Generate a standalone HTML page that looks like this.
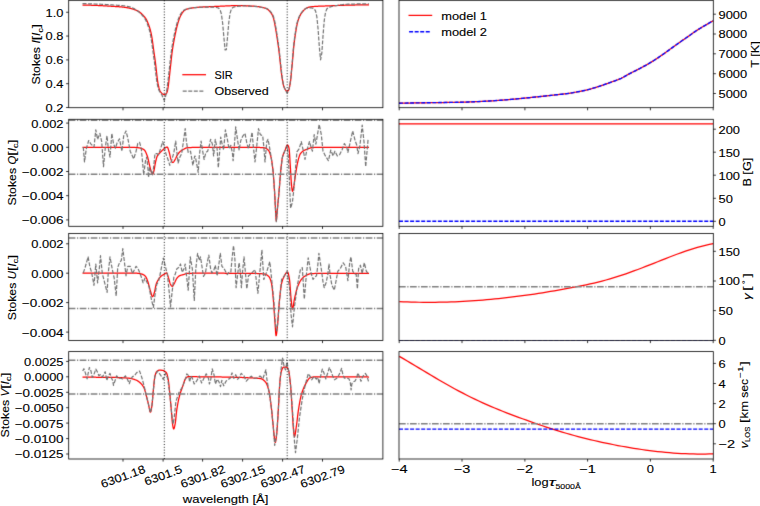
<!DOCTYPE html>
<html><head><meta charset="utf-8"><title>SIR inversion</title>
<style>
html,body{margin:0;padding:0;background:#fff;width:760px;height:506px;overflow:hidden;}
svg{display:block;}
text{font-family:"Liberation Sans", sans-serif;stroke:#000;stroke-width:0.12px;}
</style></head><body>
<svg width="760" height="506" viewBox="0 0 760 506" font-family='"Liberation Sans", sans-serif' fill="#000">
<defs><filter id="soft" x="0" y="0" width="760" height="506" filterUnits="userSpaceOnUse" color-interpolation-filters="sRGB"><feConvolveMatrix order="3" kernelMatrix="0.0100 0.0800 0.0100 0.0800 0.6400 0.0800 0.0100 0.0800 0.0100" divisor="1" edgeMode="duplicate" preserveAlpha="true"/></filter></defs>
<g filter="url(#soft)">
<rect x="0" y="0" width="760" height="506" fill="#fff"/>
<defs>
<clipPath id="cl0"><rect x="68.7" y="0.3" width="314.2" height="107.4"/></clipPath>
<clipPath id="cr0"><rect x="399" y="0.3" width="314.3" height="107.4"/></clipPath>
<clipPath id="cl1"><rect x="68.7" y="119.3" width="314.2" height="107"/></clipPath>
<clipPath id="cr1"><rect x="399" y="119.3" width="314.3" height="107"/></clipPath>
<clipPath id="cl2"><rect x="68.7" y="233.5" width="314.2" height="107"/></clipPath>
<clipPath id="cr2"><rect x="399" y="233.5" width="314.3" height="107"/></clipPath>
<clipPath id="cl3"><rect x="68.7" y="351.6" width="314.2" height="107.4"/></clipPath>
<clipPath id="cr3"><rect x="399" y="351.6" width="314.3" height="107.4"/></clipPath>
</defs>
<g clip-path="url(#cl0)">
<path d="M82.5,5 L82.8,5.01 L83.1,5.02 L83.4,5.02 L83.7,5.03 L84,5.04 L84.3,5.05 L84.6,5.06 L84.9,5.06 L85.2,5.07 L85.5,5.08 L85.8,5.09 L86.1,5.1 L86.4,5.11 L86.7,5.11 L87,5.12 L87.3,5.13 L87.6,5.14 L87.9,5.15 L88.2,5.16 L88.5,5.16 L88.8,5.17 L89.1,5.18 L89.4,5.19 L89.7,5.2 L90,5.21 L90.3,5.22 L90.6,5.23 L90.9,5.24 L91.2,5.25 L91.5,5.26 L91.8,5.27 L92.1,5.28 L92.4,5.29 L92.7,5.3 L93,5.31 L93.3,5.32 L93.6,5.33 L93.9,5.34 L94.2,5.35 L94.5,5.36 L94.8,5.37 L95.1,5.39 L95.4,5.4 L95.7,5.41 L96,5.42 L96.3,5.43 L96.6,5.45 L96.9,5.46 L97.2,5.47 L97.5,5.48 L97.8,5.5 L98.1,5.51 L98.4,5.52 L98.7,5.54 L99,5.55 L99.3,5.57 L99.6,5.58 L99.9,5.6 L100.2,5.61 L100.5,5.63 L100.8,5.64 L101.1,5.66 L101.4,5.67 L101.7,5.69 L102,5.7 L102.3,5.72 L102.6,5.74 L102.9,5.75 L103.2,5.77 L103.5,5.79 L103.8,5.81 L104.1,5.82 L104.4,5.84 L104.7,5.86 L105,5.88 L105.3,5.89 L105.6,5.91 L105.9,5.93 L106.2,5.95 L106.5,5.97 L106.8,5.99 L107.1,6 L107.4,6.02 L107.7,6.04 L108,6.06 L108.3,6.08 L108.6,6.1 L108.9,6.12 L109.2,6.14 L109.5,6.16 L109.8,6.17 L110.1,6.19 L110.4,6.21 L110.7,6.23 L111,6.25 L111.3,6.27 L111.6,6.29 L111.9,6.31 L112.2,6.33 L112.5,6.35 L112.8,6.36 L113.1,6.38 L113.4,6.4 L113.7,6.42 L114,6.44 L114.3,6.46 L114.6,6.48 L114.9,6.49 L115.2,6.51 L115.5,6.53 L115.8,6.55 L116.1,6.57 L116.4,6.58 L116.7,6.6 L117,6.62 L117.3,6.64 L117.6,6.66 L117.9,6.68 L118.2,6.7 L118.5,6.72 L118.8,6.74 L119.1,6.76 L119.4,6.78 L119.7,6.81 L120,6.83 L120.3,6.85 L120.6,6.88 L120.9,6.9 L121.2,6.93 L121.5,6.96 L121.8,6.99 L122.1,7.02 L122.4,7.05 L122.7,7.08 L123,7.11 L123.3,7.15 L123.6,7.18 L123.9,7.22 L124.2,7.26 L124.5,7.3 L124.8,7.34 L125.1,7.38 L125.4,7.42 L125.7,7.47 L126,7.52 L126.3,7.57 L126.6,7.62 L126.9,7.67 L127.2,7.72 L127.5,7.78 L127.8,7.83 L128.1,7.89 L128.4,7.95 L128.7,8.01 L129,8.08 L129.3,8.14 L129.6,8.21 L129.9,8.28 L130.2,8.35 L130.5,8.42 L130.8,8.5 L131.1,8.58 L131.4,8.66 L131.7,8.74 L132,8.82 L132.3,8.91 L132.6,9 L132.9,9.09 L133.2,9.18 L133.5,9.27 L133.8,9.37 L134.1,9.47 L134.4,9.58 L134.7,9.68 L135,9.79 L135.3,9.9 L135.6,10.02 L135.9,10.14 L136.2,10.26 L136.5,10.38 L136.8,10.51 L137.1,10.64 L137.4,10.78 L137.7,10.93 L138,11.08 L138.3,11.24 L138.6,11.41 L138.9,11.59 L139.2,11.79 L139.5,11.99 L139.8,12.21 L140.1,12.44 L140.4,12.68 L140.7,12.94 L141,13.22 L141.3,13.5 L141.6,13.8 L141.9,14.1 L142.2,14.41 L142.5,14.73 L142.8,15.05 L143.1,15.37 L143.4,15.69 L143.7,16.01 L144,16.34 L144.3,16.67 L144.6,17.01 L144.9,17.37 L145.2,17.75 L145.5,18.16 L145.8,18.61 L146.1,19.09 L146.4,19.62 L146.7,20.2 L147,20.83 L147.3,21.5 L147.6,22.22 L147.9,22.96 L148.2,23.74 L148.5,24.53 L148.8,25.34 L149.1,26.17 L149.4,27.04 L149.7,27.96 L150,28.93 L150.3,29.98 L150.6,31.12 L150.9,32.36 L151.2,33.72 L151.5,35.21 L151.8,36.84 L152.1,38.64 L152.4,40.6 L152.7,42.75 L153,45.03 L153.3,47.34 L153.6,49.6 L153.9,51.74 L154.2,53.79 L154.5,55.82 L154.8,57.9 L155.1,60.08 L155.4,62.38 L155.7,64.82 L156,67.4 L156.3,70.13 L156.6,72.89 L156.9,75.59 L157.2,78.1 L157.5,80.33 L157.8,82.28 L158.1,83.98 L158.4,85.48 L158.7,86.78 L159,87.92 L159.3,88.9 L159.6,89.75 L159.9,90.47 L160.2,91.08 L160.5,91.61 L160.8,92.06 L161.1,92.45 L161.4,92.8 L161.7,93.12 L162,93.41 L162.3,93.67 L162.6,93.9 L162.9,94.09 L163.2,94.25 L163.5,94.37 L163.8,94.46 L164.1,94.51 L164.4,94.53 L164.7,94.52 L165,94.48 L165.3,94.41 L165.6,94.29 L165.9,94.09 L166.2,93.8 L166.5,93.4 L166.8,92.83 L167.1,92.06 L167.4,91.02 L167.7,89.69 L168,88.03 L168.3,86 L168.6,83.61 L168.9,81 L169.2,78.3 L169.5,75.63 L169.8,72.96 L170.1,70.26 L170.4,67.5 L170.7,64.68 L171,61.84 L171.3,59.03 L171.6,56.34 L171.9,53.8 L172.2,51.47 L172.5,49.34 L172.8,47.38 L173.1,45.55 L173.4,43.82 L173.7,42.17 L174,40.57 L174.3,38.99 L174.6,37.44 L174.9,35.93 L175.2,34.44 L175.5,33 L175.8,31.6 L176.1,30.24 L176.4,28.93 L176.7,27.67 L177,26.45 L177.3,25.29 L177.6,24.17 L177.9,23.11 L178.2,22.1 L178.5,21.15 L178.8,20.25 L179.1,19.39 L179.4,18.59 L179.7,17.83 L180,17.12 L180.3,16.44 L180.6,15.8 L180.9,15.2 L181.2,14.63 L181.5,14.09 L181.8,13.58 L182.1,13.11 L182.4,12.67 L182.7,12.26 L183,11.88 L183.3,11.53 L183.6,11.2 L183.9,10.91 L184.2,10.64 L184.5,10.39 L184.8,10.17 L185.1,9.97 L185.4,9.79 L185.7,9.63 L186,9.48 L186.3,9.35 L186.6,9.23 L186.9,9.13 L187.2,9.03 L187.5,8.95 L187.8,8.87 L188.1,8.79 L188.4,8.72 L188.7,8.65 L189,8.59 L189.3,8.52 L189.6,8.46 L189.9,8.4 L190.2,8.34 L190.5,8.28 L190.8,8.22 L191.1,8.17 L191.4,8.11 L191.7,8.06 L192,8.01 L192.3,7.96 L192.6,7.91 L192.9,7.86 L193.2,7.82 L193.5,7.77 L193.8,7.73 L194.1,7.69 L194.4,7.65 L194.7,7.61 L195,7.58 L195.3,7.54 L195.6,7.51 L195.9,7.47 L196.2,7.44 L196.5,7.41 L196.8,7.38 L197.1,7.36 L197.4,7.33 L197.7,7.31 L198,7.28 L198.3,7.26 L198.6,7.24 L198.9,7.21 L199.2,7.19 L199.5,7.17 L199.8,7.15 L200.1,7.14 L200.4,7.12 L200.7,7.1 L201,7.08 L201.3,7.07 L201.6,7.05 L201.9,7.04 L202.2,7.02 L202.5,7.01 L202.8,7 L203.1,6.98 L203.4,6.97 L203.7,6.96 L204,6.94 L204.3,6.93 L204.6,6.92 L204.9,6.9 L205.2,6.89 L205.5,6.88 L205.8,6.87 L206.1,6.85 L206.4,6.84 L206.7,6.83 L207,6.81 L207.3,6.8 L207.6,6.79 L207.9,6.78 L208.2,6.76 L208.5,6.75 L208.8,6.74 L209.1,6.72 L209.4,6.71 L209.7,6.7 L210,6.68 L210.3,6.67 L210.6,6.66 L210.9,6.64 L211.2,6.63 L211.5,6.62 L211.8,6.6 L212.1,6.59 L212.4,6.58 L212.7,6.56 L213,6.55 L213.3,6.54 L213.6,6.52 L213.9,6.51 L214.2,6.5 L214.5,6.48 L214.8,6.47 L215.1,6.46 L215.4,6.44 L215.7,6.43 L216,6.41 L216.3,6.4 L216.6,6.39 L216.9,6.37 L217.2,6.36 L217.5,6.35 L217.8,6.33 L218.1,6.32 L218.4,6.31 L218.7,6.29 L219,6.28 L219.3,6.26 L219.6,6.25 L219.9,6.24 L220.2,6.22 L220.5,6.21 L220.8,6.19 L221.1,6.18 L221.4,6.17 L221.7,6.15 L222,6.14 L222.3,6.13 L222.6,6.11 L222.9,6.1 L223.2,6.08 L223.5,6.07 L223.8,6.06 L224.1,6.04 L224.4,6.03 L224.7,6.01 L225,6 L225.3,5.99 L225.6,5.97 L225.9,5.96 L226.2,5.94 L226.5,5.93 L226.8,5.92 L227.1,5.9 L227.4,5.89 L227.7,5.88 L228,5.86 L228.3,5.85 L228.6,5.84 L228.9,5.82 L229.2,5.81 L229.5,5.8 L229.8,5.78 L230.1,5.77 L230.4,5.76 L230.7,5.75 L231,5.74 L231.3,5.73 L231.6,5.71 L231.9,5.7 L232.2,5.69 L232.5,5.68 L232.8,5.67 L233.1,5.66 L233.4,5.65 L233.7,5.65 L234,5.64 L234.3,5.63 L234.6,5.62 L234.9,5.61 L235.2,5.61 L235.5,5.6 L235.8,5.6 L236.1,5.59 L236.4,5.58 L236.7,5.58 L237,5.58 L237.3,5.57 L237.6,5.57 L237.9,5.57 L238.2,5.57 L238.5,5.56 L238.8,5.56 L239.1,5.56 L239.4,5.56 L239.7,5.56 L240,5.57 L240.3,5.57 L240.6,5.57 L240.9,5.58 L241.2,5.58 L241.5,5.59 L241.8,5.59 L242.1,5.6 L242.4,5.6 L242.7,5.61 L243,5.62 L243.3,5.63 L243.6,5.64 L243.9,5.65 L244.2,5.66 L244.5,5.68 L244.8,5.69 L245.1,5.7 L245.4,5.72 L245.7,5.74 L246,5.75 L246.3,5.77 L246.6,5.79 L246.9,5.81 L247.2,5.82 L247.5,5.84 L247.8,5.86 L248.1,5.88 L248.4,5.9 L248.7,5.92 L249,5.94 L249.3,5.96 L249.6,5.98 L249.9,5.99 L250.2,6.01 L250.5,6.03 L250.8,6.05 L251.1,6.06 L251.4,6.08 L251.7,6.1 L252,6.11 L252.3,6.13 L252.6,6.15 L252.9,6.16 L253.2,6.18 L253.5,6.2 L253.8,6.22 L254.1,6.24 L254.4,6.26 L254.7,6.28 L255,6.3 L255.3,6.33 L255.6,6.35 L255.9,6.38 L256.2,6.41 L256.5,6.44 L256.8,6.47 L257.1,6.5 L257.4,6.54 L257.7,6.57 L258,6.61 L258.3,6.65 L258.6,6.7 L258.9,6.74 L259.2,6.79 L259.5,6.84 L259.8,6.89 L260.1,6.95 L260.4,7 L260.7,7.06 L261,7.12 L261.3,7.19 L261.6,7.25 L261.9,7.32 L262.2,7.39 L262.5,7.46 L262.8,7.53 L263.1,7.61 L263.4,7.68 L263.7,7.76 L264,7.84 L264.3,7.93 L264.6,8.01 L264.9,8.1 L265.2,8.2 L265.5,8.3 L265.8,8.42 L266.1,8.54 L266.4,8.67 L266.7,8.82 L267,8.98 L267.3,9.16 L267.6,9.35 L267.9,9.57 L268.2,9.8 L268.5,10.06 L268.8,10.33 L269.1,10.63 L269.4,10.95 L269.7,11.29 L270,11.65 L270.3,12.02 L270.6,12.42 L270.9,12.83 L271.2,13.25 L271.5,13.7 L271.8,14.17 L272.1,14.68 L272.4,15.27 L272.7,15.93 L273,16.7 L273.3,17.59 L273.6,18.62 L273.9,19.81 L274.2,21.14 L274.5,22.6 L274.8,24.16 L275.1,25.79 L275.4,27.46 L275.7,29.17 L276,30.92 L276.3,32.7 L276.6,34.53 L276.9,36.4 L277.2,38.32 L277.5,40.3 L277.8,42.34 L278.1,44.45 L278.4,46.65 L278.7,48.93 L279,51.32 L279.3,53.81 L279.6,56.42 L279.9,59.16 L280.2,62.03 L280.5,64.97 L280.8,67.86 L281.1,70.61 L281.4,73.09 L281.7,75.29 L282,77.26 L282.3,79.1 L282.6,80.88 L282.9,82.57 L283.2,84.1 L283.5,85.4 L283.8,86.45 L284.1,87.29 L284.4,87.96 L284.7,88.53 L285,89.03 L285.3,89.53 L285.6,90.02 L285.9,90.46 L286.2,90.85 L286.5,91.13 L286.8,91.3 L287.1,91.33 L287.4,91.23 L287.7,91.05 L288,90.82 L288.3,90.52 L288.6,90.08 L288.9,89.43 L289.2,88.5 L289.5,87.23 L289.8,85.71 L290.1,84.03 L290.4,82.17 L290.7,79.89 L291,77 L291.3,73.69 L291.6,70.46 L291.9,67.49 L292.2,64.52 L292.5,61.26 L292.8,57.76 L293.1,54.18 L293.4,50.67 L293.7,47.4 L294,44.49 L294.3,41.91 L294.6,39.6 L294.9,37.47 L295.2,35.46 L295.5,33.5 L295.8,31.58 L296.1,29.73 L296.4,27.97 L296.7,26.32 L297,24.81 L297.3,23.45 L297.6,22.22 L297.9,21.12 L298.2,20.12 L298.5,19.22 L298.8,18.4 L299.1,17.64 L299.4,16.94 L299.7,16.28 L300,15.66 L300.3,15.09 L300.6,14.55 L300.9,14.05 L301.2,13.57 L301.5,13.12 L301.8,12.69 L302.1,12.29 L302.4,11.9 L302.7,11.53 L303,11.17 L303.3,10.82 L303.6,10.49 L303.9,10.17 L304.2,9.87 L304.5,9.58 L304.8,9.31 L305.1,9.06 L305.4,8.82 L305.7,8.6 L306,8.39 L306.3,8.2 L306.6,8.03 L306.9,7.87 L307.2,7.73 L307.5,7.6 L307.8,7.49 L308.1,7.38 L308.4,7.29 L308.7,7.21 L309,7.14 L309.3,7.07 L309.6,7.01 L309.9,6.96 L310.2,6.92 L310.5,6.87 L310.8,6.84 L311.1,6.8 L311.4,6.77 L311.7,6.73 L312,6.7 L312.3,6.67 L312.6,6.64 L312.9,6.61 L313.2,6.58 L313.5,6.55 L313.8,6.53 L314.1,6.5 L314.4,6.48 L314.7,6.46 L315,6.43 L315.3,6.41 L315.6,6.39 L315.9,6.37 L316.2,6.35 L316.5,6.34 L316.8,6.32 L317.1,6.3 L317.4,6.29 L317.7,6.27 L318,6.26 L318.3,6.24 L318.6,6.23 L318.9,6.21 L319.2,6.2 L319.5,6.19 L319.8,6.18 L320.1,6.17 L320.4,6.15 L320.7,6.14 L321,6.13 L321.3,6.12 L321.6,6.11 L321.9,6.1 L322.2,6.09 L322.5,6.08 L322.8,6.07 L323.1,6.06 L323.4,6.05 L323.7,6.04 L324,6.03 L324.3,6.02 L324.6,6.01 L324.9,6 L325.2,5.99 L325.5,5.98 L325.8,5.97 L326.1,5.96 L326.4,5.95 L326.7,5.94 L327,5.93 L327.3,5.92 L327.6,5.91 L327.9,5.89 L328.2,5.88 L328.5,5.87 L328.8,5.86 L329.1,5.85 L329.4,5.83 L329.7,5.82 L330,5.81 L330.3,5.8 L330.6,5.78 L330.9,5.77 L331.2,5.76 L331.5,5.75 L331.8,5.73 L332.1,5.72 L332.4,5.71 L332.7,5.7 L333,5.68 L333.3,5.67 L333.6,5.66 L333.9,5.65 L334.2,5.63 L334.5,5.62 L334.8,5.61 L335.1,5.6 L335.4,5.58 L335.7,5.57 L336,5.56 L336.3,5.55 L336.6,5.53 L336.9,5.52 L337.2,5.51 L337.5,5.5 L337.8,5.48 L338.1,5.47 L338.4,5.46 L338.7,5.45 L339,5.44 L339.3,5.43 L339.6,5.41 L339.9,5.4 L340.2,5.39 L340.5,5.38 L340.8,5.37 L341.1,5.36 L341.4,5.35 L341.7,5.34 L342,5.33 L342.3,5.32 L342.6,5.31 L342.9,5.3 L343.2,5.29 L343.5,5.28 L343.8,5.27 L344.1,5.26 L344.4,5.25 L344.7,5.24 L345,5.24 L345.3,5.23 L345.6,5.22 L345.9,5.21 L346.2,5.2 L346.5,5.19 L346.8,5.19 L347.1,5.18 L347.4,5.17 L347.7,5.16 L348,5.15 L348.3,5.15 L348.6,5.14 L348.9,5.13 L349.2,5.12 L349.5,5.12 L349.8,5.11 L350.1,5.1 L350.4,5.1 L350.7,5.09 L351,5.08 L351.3,5.08 L351.6,5.07 L351.9,5.06 L352.2,5.06 L352.5,5.05 L352.8,5.05 L353.1,5.04 L353.4,5.03 L353.7,5.03 L354,5.02 L354.3,5.02 L354.6,5.01 L354.9,5.01 L355.2,5 L355.5,4.99 L355.8,4.99 L356.1,4.98 L356.4,4.98 L356.7,4.97 L357,4.97 L357.3,4.96 L357.6,4.96 L357.9,4.95 L358.2,4.95 L358.5,4.94 L358.8,4.94 L359.1,4.93 L359.4,4.93 L359.7,4.93 L360,4.92 L360.3,4.92 L360.6,4.91 L360.9,4.91 L361.2,4.9 L361.5,4.9 L361.8,4.89 L362.1,4.89 L362.4,4.89 L362.7,4.88 L363,4.88 L363.3,4.87 L363.6,4.87 L363.9,4.87 L364.2,4.86 L364.5,4.86 L364.8,4.85 L365.1,4.85 L365.4,4.85 L365.7,4.84 L366,4.84 L366.3,4.83 L366.6,4.83 L366.9,4.83 L367.2,4.82 L367.5,4.82 L367.8,4.82 L368.1,4.81 L368.4,4.81 L368.7,4.8 L369,4.8" fill="none" stroke="#ff0000" stroke-width="1.25" stroke-linejoin="round"/>
<path d="M82.5,3.61 L83.74,3.64 L84.98,3.67 L86.22,3.71 L87.46,3.74 L88.7,3.78 L89.94,3.82 L91.18,3.85 L92.42,3.9 L93.66,3.94 L94.9,3.99 L96.14,4.03 L97.38,4.09 L98.62,4.14 L99.86,4.2 L101.1,4.26 L102.34,4.33 L103.58,4.4 L104.82,4.47 L106.06,4.55 L107.3,4.63 L108.54,4.7 L109.78,4.78 L111.02,4.86 L112.26,4.94 L113.5,5.02 L114.74,5.09 L115.98,5.17 L117.22,5.25 L118.46,5.33 L119.7,5.42 L120.94,5.52 L122.18,5.64 L123.42,5.77 L124.66,5.93 L125.9,6.11 L127.14,6.32 L128.38,6.56 L129.62,6.83 L130.86,7.25 L132.1,7.76 L133.34,8.31 L134.58,8.9 L135.82,9.91 L137.06,10.67 L138.3,11.56 L139.54,12.67 L140.78,13.9 L142.02,15.2 L143.26,16.53 L144.5,18.04 L145.74,20.1 L146.98,22.93 L148.22,26.25 L149.46,30.22 L150.7,35.76 L151.94,43.83 L153.18,53 L154.42,61.78 L155.66,72.55 L156.9,82.3 L158.14,88.09 L159.38,91.26 L160.62,93 L161.86,94.74 L163.1,98.27 L164.34,100.42 L165.58,96.31 L166.82,90.04 L168.06,80.51 L169.3,69.38 L170.54,57.8 L171.78,48.19 L173.02,41.03 L174.26,34.68 L175.5,28.98 L176.74,24.07 L177.98,20.06 L179.22,16.89 L180.46,14.39 L181.7,12.45 L182.94,11.02 L184.18,10.05 L185.42,9.41 L186.66,9 L187.9,8.71 L189.14,8.45 L190.38,8.22 L191.62,8.01 L192.86,7.84 L194.1,7.68 L195.34,7.65 L196.58,7.53 L197.82,7.43 L199.06,7.35 L200.3,7.29 L201.54,7.23 L202.78,7.19 L204.02,7.16 L205.26,7.13 L206.5,7.11 L207.74,7.1 L208.98,7.09 L210.22,7.09 L211.46,7.11 L212.7,7.15 L213.94,7.21 L215.18,7.32 L216.42,7.5 L217.66,7.79 L218.9,8.39 L220.14,9.91 L221.38,13.99 L222.62,22.96 L223.86,37.05 L225.1,49.96 L226.34,49.63 L227.58,36.38 L228.82,22.29 L230.06,13.4 L231.3,9.34 L232.54,7.76 L233.78,7.09 L235.02,6.71 L236.26,6.46 L237.5,6.28 L238.74,6.15 L239.98,6.06 L241.22,6 L242.46,5.97 L243.7,5.97 L244.94,5.98 L246.18,6.02 L247.42,6.07 L248.66,6.13 L249.9,6.19 L251.14,6.24 L252.38,6.3 L253.62,6.36 L254.86,6.44 L256.1,6.53 L257.34,6.66 L258.58,6.82 L259.82,7.01 L261.06,7.25 L262.3,7.52 L263.54,7.82 L264.78,8.17 L266.02,8.28 L267.26,8.78 L268.5,9.53 L269.74,10.63 L270.98,12.12 L272.22,13.93 L273.46,16.48 L274.7,21.12 L275.94,27.93 L277.18,35.61 L278.42,44.19 L279.66,54.26 L280.9,66.37 L282.14,76.88 L283.38,84.29 L284.62,88.33 L285.86,90.99 L287.1,93.02 L288.34,91.46 L289.58,86.62 L290.82,77.49 L292.06,64.07 L293.3,49.16 L294.54,38.05 L295.78,29.72 L297.02,23.13 L298.26,18.85 L299.5,15.9 L300.74,13.7 L301.98,11.98 L303.22,10.55 L304.46,9.41 L305.7,8.58 L306.94,8.07 L308.18,7.8 L309.42,7.72 L310.66,7.87 L311.9,8.01 L313.14,8.32 L314.38,9.06 L315.62,11.13 L316.86,16.86 L318.1,29.2 L319.34,47.16 L320.58,59.8 L321.82,53.09 L323.06,35.08 L324.3,20.12 L325.54,12.2 L326.78,9.04 L328.02,7.85 L329.26,7.26 L330.5,6.85 L331.74,6.49 L332.98,6.18 L334.22,5.92 L335.46,5.68 L336.7,5.47 L337.94,5.27 L339.18,5.08 L340.42,4.91 L341.66,4.74 L342.9,4.58 L344.14,4.43 L345.38,4.31 L346.62,4.26 L347.86,4.21 L349.1,4.17 L350.34,4.13 L351.58,4.09 L352.82,4.06 L354.06,4.03 L355.3,4 L356.54,3.97 L357.78,3.94 L359.02,3.92 L360.26,3.89 L361.5,3.87 L362.74,3.85 L363.98,3.83 L365.22,3.81 L366.46,3.79 L367.7,3.77 L368.94,3.75" fill="none" stroke="#727272" stroke-width="1.2" stroke-dasharray="4,1.55" stroke-linejoin="round"/>
</g>
<g clip-path="url(#cl1)">
<path d="M82.5,147.3 L82.8,147.3 L83.1,147.3 L83.4,147.3 L83.7,147.3 L84,147.3 L84.3,147.3 L84.6,147.3 L84.9,147.3 L85.2,147.3 L85.5,147.3 L85.8,147.3 L86.1,147.3 L86.4,147.3 L86.7,147.3 L87,147.3 L87.3,147.3 L87.6,147.3 L87.9,147.3 L88.2,147.3 L88.5,147.3 L88.8,147.3 L89.1,147.3 L89.4,147.3 L89.7,147.3 L90,147.3 L90.3,147.3 L90.6,147.3 L90.9,147.3 L91.2,147.3 L91.5,147.3 L91.8,147.3 L92.1,147.3 L92.4,147.3 L92.7,147.3 L93,147.3 L93.3,147.3 L93.6,147.3 L93.9,147.3 L94.2,147.3 L94.5,147.3 L94.8,147.31 L95.1,147.31 L95.4,147.31 L95.7,147.31 L96,147.31 L96.3,147.31 L96.6,147.31 L96.9,147.31 L97.2,147.31 L97.5,147.31 L97.8,147.31 L98.1,147.31 L98.4,147.31 L98.7,147.31 L99,147.31 L99.3,147.31 L99.6,147.31 L99.9,147.31 L100.2,147.31 L100.5,147.31 L100.8,147.31 L101.1,147.31 L101.4,147.31 L101.7,147.31 L102,147.32 L102.3,147.32 L102.6,147.32 L102.9,147.32 L103.2,147.32 L103.5,147.32 L103.8,147.32 L104.1,147.32 L104.4,147.32 L104.7,147.32 L105,147.32 L105.3,147.32 L105.6,147.32 L105.9,147.32 L106.2,147.32 L106.5,147.33 L106.8,147.33 L107.1,147.33 L107.4,147.33 L107.7,147.33 L108,147.33 L108.3,147.33 L108.6,147.33 L108.9,147.33 L109.2,147.33 L109.5,147.33 L109.8,147.34 L110.1,147.34 L110.4,147.34 L110.7,147.34 L111,147.34 L111.3,147.34 L111.6,147.34 L111.9,147.34 L112.2,147.34 L112.5,147.34 L112.8,147.35 L113.1,147.35 L113.4,147.35 L113.7,147.35 L114,147.35 L114.3,147.35 L114.6,147.35 L114.9,147.35 L115.2,147.36 L115.5,147.36 L115.8,147.36 L116.1,147.36 L116.4,147.36 L116.7,147.36 L117,147.36 L117.3,147.37 L117.6,147.37 L117.9,147.37 L118.2,147.37 L118.5,147.37 L118.8,147.37 L119.1,147.37 L119.4,147.38 L119.7,147.38 L120,147.38 L120.3,147.38 L120.6,147.38 L120.9,147.38 L121.2,147.39 L121.5,147.39 L121.8,147.39 L122.1,147.39 L122.4,147.39 L122.7,147.39 L123,147.4 L123.3,147.4 L123.6,147.4 L123.9,147.4 L124.2,147.4 L124.5,147.41 L124.8,147.41 L125.1,147.41 L125.4,147.41 L125.7,147.41 L126,147.42 L126.3,147.42 L126.6,147.42 L126.9,147.42 L127.2,147.42 L127.5,147.43 L127.8,147.43 L128.1,147.43 L128.4,147.43 L128.7,147.44 L129,147.44 L129.3,147.44 L129.6,147.44 L129.9,147.45 L130.2,147.45 L130.5,147.45 L130.8,147.45 L131.1,147.46 L131.4,147.46 L131.7,147.46 L132,147.46 L132.3,147.47 L132.6,147.47 L132.9,147.47 L133.2,147.47 L133.5,147.48 L133.8,147.48 L134.1,147.48 L134.4,147.48 L134.7,147.49 L135,147.49 L135.3,147.49 L135.6,147.5 L135.9,147.5 L136.2,147.5 L136.5,147.51 L136.8,147.53 L137.1,147.56 L137.4,147.59 L137.7,147.62 L138,147.66 L138.3,147.71 L138.6,147.76 L138.9,147.81 L139.2,147.87 L139.5,147.93 L139.8,148 L140.1,148.06 L140.4,148.13 L140.7,148.2 L141,148.28 L141.3,148.36 L141.6,148.46 L141.9,148.57 L142.2,148.7 L142.5,148.84 L142.8,148.99 L143.1,149.16 L143.4,149.35 L143.7,149.55 L144,149.76 L144.3,150 L144.6,150.29 L144.9,150.68 L145.2,151.14 L145.5,151.68 L145.8,152.28 L146.1,152.94 L146.4,153.66 L146.7,154.41 L147,155.19 L147.3,156 L147.6,156.92 L147.9,158.03 L148.2,159.26 L148.5,160.58 L148.8,161.94 L149.1,163.29 L149.4,164.59 L149.7,165.8 L150,167.05 L150.3,168.32 L150.6,169.56 L150.9,170.7 L151.2,171.68 L151.5,172.44 L151.8,173.16 L152.1,173.79 L152.4,174.21 L152.7,174.27 L153,173.84 L153.3,173.04 L153.6,172.06 L153.9,171.05 L154.2,169.71 L154.5,168.06 L154.8,166.25 L155.1,164.46 L155.4,162.82 L155.7,161.48 L156,160.23 L156.3,159.03 L156.6,157.93 L156.9,156.97 L157.2,156.2 L157.5,155.64 L157.8,155.16 L158.1,154.75 L158.4,154.38 L158.7,154.05 L159,153.74 L159.3,153.43 L159.6,153.11 L159.9,152.78 L160.2,152.45 L160.5,152.14 L160.8,151.83 L161.1,151.53 L161.4,151.23 L161.7,150.94 L162,150.65 L162.3,150.37 L162.6,150.09 L162.9,149.81 L163.2,149.52 L163.5,149.22 L163.8,148.92 L164.1,148.62 L164.4,148.35 L164.7,148.1 L165,147.88 L165.3,147.7 L165.6,147.56 L165.9,147.43 L166.2,147.31 L166.5,147.21 L166.8,147.14 L167.1,147.1 L167.4,147.19 L167.7,147.6 L168,148.29 L168.3,149.18 L168.6,150.17 L168.9,151.21 L169.2,152.2 L169.5,153.3 L169.8,154.62 L170.1,156.03 L170.4,157.4 L170.7,158.6 L171,159.5 L171.3,160.21 L171.6,160.91 L171.9,161.53 L172.2,162.04 L172.5,162.38 L172.8,162.5 L173.1,162.41 L173.4,162.17 L173.7,161.82 L174,161.37 L174.3,160.87 L174.6,160.34 L174.9,159.82 L175.2,159.34 L175.5,158.8 L175.8,158.2 L176.1,157.56 L176.4,156.91 L176.7,156.27 L177,155.67 L177.3,155.12 L177.6,154.65 L177.9,154.21 L178.2,153.79 L178.5,153.38 L178.8,152.99 L179.1,152.62 L179.4,152.27 L179.7,151.95 L180,151.65 L180.3,151.37 L180.6,151.12 L180.9,150.89 L181.2,150.67 L181.5,150.47 L181.8,150.28 L182.1,150.1 L182.4,149.93 L182.7,149.77 L183,149.61 L183.3,149.45 L183.6,149.29 L183.9,149.13 L184.2,148.96 L184.5,148.79 L184.8,148.62 L185.1,148.46 L185.4,148.31 L185.7,148.17 L186,148.04 L186.3,147.94 L186.6,147.86 L186.9,147.81 L187.2,147.78 L187.5,147.76 L187.8,147.73 L188.1,147.71 L188.4,147.68 L188.7,147.66 L189,147.64 L189.3,147.62 L189.6,147.6 L189.9,147.58 L190.2,147.57 L190.5,147.55 L190.8,147.53 L191.1,147.52 L191.4,147.51 L191.7,147.49 L192,147.48 L192.3,147.47 L192.6,147.46 L192.9,147.45 L193.2,147.44 L193.5,147.44 L193.8,147.43 L194.1,147.42 L194.4,147.42 L194.7,147.41 L195,147.41 L195.3,147.4 L195.6,147.4 L195.9,147.4 L196.2,147.4 L196.5,147.4 L196.8,147.4 L197.1,147.4 L197.4,147.39 L197.7,147.39 L198,147.39 L198.3,147.39 L198.6,147.39 L198.9,147.39 L199.2,147.39 L199.5,147.39 L199.8,147.38 L200.1,147.38 L200.4,147.38 L200.7,147.38 L201,147.38 L201.3,147.38 L201.6,147.38 L201.9,147.38 L202.2,147.37 L202.5,147.37 L202.8,147.37 L203.1,147.37 L203.4,147.37 L203.7,147.37 L204,147.37 L204.3,147.37 L204.6,147.37 L204.9,147.37 L205.2,147.36 L205.5,147.36 L205.8,147.36 L206.1,147.36 L206.4,147.36 L206.7,147.36 L207,147.36 L207.3,147.36 L207.6,147.36 L207.9,147.36 L208.2,147.35 L208.5,147.35 L208.8,147.35 L209.1,147.35 L209.4,147.35 L209.7,147.35 L210,147.35 L210.3,147.35 L210.6,147.35 L210.9,147.35 L211.2,147.35 L211.5,147.35 L211.8,147.34 L212.1,147.34 L212.4,147.34 L212.7,147.34 L213,147.34 L213.3,147.34 L213.6,147.34 L213.9,147.34 L214.2,147.34 L214.5,147.34 L214.8,147.34 L215.1,147.34 L215.4,147.34 L215.7,147.34 L216,147.33 L216.3,147.33 L216.6,147.33 L216.9,147.33 L217.2,147.33 L217.5,147.33 L217.8,147.33 L218.1,147.33 L218.4,147.33 L218.7,147.33 L219,147.33 L219.3,147.33 L219.6,147.33 L219.9,147.33 L220.2,147.33 L220.5,147.33 L220.8,147.32 L221.1,147.32 L221.4,147.32 L221.7,147.32 L222,147.32 L222.3,147.32 L222.6,147.32 L222.9,147.32 L223.2,147.32 L223.5,147.32 L223.8,147.32 L224.1,147.32 L224.4,147.32 L224.7,147.32 L225,147.32 L225.3,147.32 L225.6,147.32 L225.9,147.32 L226.2,147.32 L226.5,147.32 L226.8,147.31 L227.1,147.31 L227.4,147.31 L227.7,147.31 L228,147.31 L228.3,147.31 L228.6,147.31 L228.9,147.31 L229.2,147.31 L229.5,147.31 L229.8,147.31 L230.1,147.31 L230.4,147.31 L230.7,147.31 L231,147.31 L231.3,147.31 L231.6,147.31 L231.9,147.31 L232.2,147.31 L232.5,147.31 L232.8,147.31 L233.1,147.31 L233.4,147.31 L233.7,147.31 L234,147.31 L234.3,147.31 L234.6,147.31 L234.9,147.31 L235.2,147.31 L235.5,147.31 L235.8,147.31 L236.1,147.31 L236.4,147.31 L236.7,147.3 L237,147.3 L237.3,147.3 L237.6,147.3 L237.9,147.3 L238.2,147.3 L238.5,147.3 L238.8,147.3 L239.1,147.3 L239.4,147.3 L239.7,147.3 L240,147.3 L240.3,147.3 L240.6,147.3 L240.9,147.3 L241.2,147.3 L241.5,147.3 L241.8,147.3 L242.1,147.3 L242.4,147.3 L242.7,147.3 L243,147.3 L243.3,147.3 L243.6,147.3 L243.9,147.3 L244.2,147.3 L244.5,147.3 L244.8,147.3 L245.1,147.3 L245.4,147.3 L245.7,147.3 L246,147.3 L246.3,147.3 L246.6,147.3 L246.9,147.3 L247.2,147.3 L247.5,147.3 L247.8,147.3 L248.1,147.3 L248.4,147.3 L248.7,147.3 L249,147.3 L249.3,147.3 L249.6,147.3 L249.9,147.3 L250.2,147.3 L250.5,147.3 L250.8,147.3 L251.1,147.3 L251.4,147.3 L251.7,147.3 L252,147.3 L252.3,147.3 L252.6,147.3 L252.9,147.3 L253.2,147.3 L253.5,147.31 L253.8,147.31 L254.1,147.31 L254.4,147.32 L254.7,147.32 L255,147.33 L255.3,147.33 L255.6,147.34 L255.9,147.34 L256.2,147.35 L256.5,147.36 L256.8,147.37 L257.1,147.38 L257.4,147.39 L257.7,147.4 L258,147.41 L258.3,147.42 L258.6,147.43 L258.9,147.45 L259.2,147.46 L259.5,147.48 L259.8,147.49 L260.1,147.51 L260.4,147.52 L260.7,147.54 L261,147.56 L261.3,147.58 L261.6,147.6 L261.9,147.62 L262.2,147.64 L262.5,147.66 L262.8,147.68 L263.1,147.71 L263.4,147.73 L263.7,147.76 L264,147.78 L264.3,147.81 L264.6,147.86 L264.9,147.93 L265.2,148.02 L265.5,148.14 L265.8,148.28 L266.1,148.44 L266.4,148.62 L266.7,148.82 L267,149.04 L267.3,149.28 L267.6,149.53 L267.9,149.81 L268.2,150.1 L268.5,150.4 L268.8,150.78 L269.1,151.29 L269.4,151.93 L269.7,152.68 L270,153.53 L270.3,154.48 L270.6,155.51 L270.9,156.62 L271.2,157.81 L271.5,159.27 L271.8,161.04 L272.1,163.07 L272.4,165.35 L272.7,167.84 L273,170.54 L273.3,173.73 L273.6,177.44 L273.9,181.56 L274.2,185.99 L274.5,190.62 L274.8,195.66 L275.1,201.56 L275.4,207.49 L275.7,212.74 L276,218.25 L276.3,221 L276.6,218.92 L276.9,214.63 L277.2,210.92 L277.5,207.78 L277.8,204.72 L278.1,201.7 L278.4,198.64 L278.7,195.49 L279,192.2 L279.3,188.61 L279.6,184.74 L279.9,180.78 L280.2,176.93 L280.5,173.39 L280.8,170.31 L281.1,167.36 L281.4,164.5 L281.7,161.88 L282,159.62 L282.3,157.86 L282.6,156.6 L282.9,155.54 L283.2,154.62 L283.5,153.81 L283.8,153.08 L284.1,152.4 L284.4,151.75 L284.7,151.09 L285,150.4 L285.3,149.63 L285.6,148.79 L285.9,147.92 L286.2,147.08 L286.5,146.33 L286.8,145.69 L287.1,145.24 L287.4,145.02 L287.7,145.06 L288,145.38 L288.3,145.94 L288.6,146.71 L288.9,147.65 L289.2,149.29 L289.5,152.94 L289.8,157.82 L290.1,162.98 L290.4,167.6 L290.7,172.56 L291,177.74 L291.3,182.49 L291.6,186.14 L291.9,188.52 L292.2,190.47 L292.5,191.3 L292.8,190.89 L293.1,189.84 L293.4,188.45 L293.7,187 L294,185.4 L294.3,183.45 L294.6,181.28 L294.9,179.02 L295.2,176.82 L295.5,174.8 L295.8,172.9 L296.1,170.98 L296.4,169.08 L296.7,167.25 L297,165.54 L297.3,163.97 L297.6,162.6 L297.9,161.35 L298.2,160.13 L298.5,158.96 L298.8,157.85 L299.1,156.82 L299.4,155.9 L299.7,155.09 L300,154.42 L300.3,153.9 L300.6,153.48 L300.9,153.1 L301.2,152.74 L301.5,152.41 L301.8,152.11 L302.1,151.84 L302.4,151.59 L302.7,151.35 L303,151.13 L303.3,150.93 L303.6,150.75 L303.9,150.57 L304.2,150.4 L304.5,150.24 L304.8,150.1 L305.1,149.96 L305.4,149.83 L305.7,149.71 L306,149.6 L306.3,149.49 L306.6,149.38 L306.9,149.28 L307.2,149.18 L307.5,149.07 L307.8,148.96 L308.1,148.85 L308.4,148.73 L308.7,148.6 L309,148.48 L309.3,148.35 L309.6,148.23 L309.9,148.11 L310.2,148 L310.5,147.9 L310.8,147.81 L311.1,147.73 L311.4,147.67 L311.7,147.63 L312,147.6 L312.3,147.59 L312.6,147.57 L312.9,147.56 L313.2,147.54 L313.5,147.53 L313.8,147.52 L314.1,147.5 L314.4,147.49 L314.7,147.48 L315,147.47 L315.3,147.46 L315.6,147.45 L315.9,147.44 L316.2,147.43 L316.5,147.42 L316.8,147.41 L317.1,147.4 L317.4,147.39 L317.7,147.39 L318,147.38 L318.3,147.37 L318.6,147.37 L318.9,147.36 L319.2,147.35 L319.5,147.35 L319.8,147.34 L320.1,147.34 L320.4,147.33 L320.7,147.33 L321,147.32 L321.3,147.32 L321.6,147.32 L321.9,147.31 L322.2,147.31 L322.5,147.31 L322.8,147.31 L323.1,147.31 L323.4,147.3 L323.7,147.3 L324,147.3 L324.3,147.3 L324.6,147.3 L324.9,147.3 L325.2,147.3 L325.5,147.3 L325.8,147.3 L326.1,147.3 L326.4,147.3 L326.7,147.3 L327,147.3 L327.3,147.3 L327.6,147.3 L327.9,147.3 L328.2,147.3 L328.5,147.3 L328.8,147.3 L329.1,147.3 L329.4,147.3 L329.7,147.3 L330,147.3 L330.3,147.3 L330.6,147.3 L330.9,147.3 L331.2,147.3 L331.5,147.3 L331.8,147.3 L332.1,147.3 L332.4,147.3 L332.7,147.3 L333,147.3 L333.3,147.3 L333.6,147.3 L333.9,147.3 L334.2,147.3 L334.5,147.3 L334.8,147.3 L335.1,147.3 L335.4,147.3 L335.7,147.3 L336,147.3 L336.3,147.3 L336.6,147.3 L336.9,147.3 L337.2,147.3 L337.5,147.3 L337.8,147.3 L338.1,147.3 L338.4,147.3 L338.7,147.3 L339,147.3 L339.3,147.3 L339.6,147.3 L339.9,147.3 L340.2,147.3 L340.5,147.3 L340.8,147.3 L341.1,147.3 L341.4,147.3 L341.7,147.3 L342,147.3 L342.3,147.3 L342.6,147.3 L342.9,147.3 L343.2,147.3 L343.5,147.3 L343.8,147.3 L344.1,147.3 L344.4,147.3 L344.7,147.3 L345,147.3 L345.3,147.3 L345.6,147.3 L345.9,147.3 L346.2,147.3 L346.5,147.3 L346.8,147.3 L347.1,147.3 L347.4,147.3 L347.7,147.3 L348,147.3 L348.3,147.3 L348.6,147.3 L348.9,147.3 L349.2,147.3 L349.5,147.3 L349.8,147.3 L350.1,147.3 L350.4,147.3 L350.7,147.3 L351,147.3 L351.3,147.3 L351.6,147.3 L351.9,147.3 L352.2,147.3 L352.5,147.3 L352.8,147.3 L353.1,147.3 L353.4,147.3 L353.7,147.3 L354,147.3 L354.3,147.3 L354.6,147.3 L354.9,147.3 L355.2,147.3 L355.5,147.3 L355.8,147.3 L356.1,147.3 L356.4,147.3 L356.7,147.3 L357,147.3 L357.3,147.3 L357.6,147.3 L357.9,147.3 L358.2,147.3 L358.5,147.3 L358.8,147.3 L359.1,147.3 L359.4,147.3 L359.7,147.3 L360,147.3 L360.3,147.3 L360.6,147.3 L360.9,147.3 L361.2,147.3 L361.5,147.3 L361.8,147.3 L362.1,147.3 L362.4,147.3 L362.7,147.3 L363,147.3 L363.3,147.3 L363.6,147.3 L363.9,147.3 L364.2,147.3 L364.5,147.3 L364.8,147.3 L365.1,147.3 L365.4,147.3 L365.7,147.3 L366,147.3 L366.3,147.3 L366.6,147.3 L366.9,147.3 L367.2,147.3 L367.5,147.3 L367.8,147.3 L368.1,147.3 L368.4,147.3 L368.7,147.3 L369,147.3" fill="none" stroke="#ff0000" stroke-width="1.25" stroke-linejoin="round"/>
<path d="M83.3,147.1 L84.5,161.9 L86.3,148.8 L88.7,140.5 L91,144.1 L94,147.1 L95.8,129.9 L97.6,139.3 L99.9,133.4 L101.7,141.7 L103.5,166.6 L105.3,147.6 L107,135.8 L108.2,147.6 L110,157.1 L111.8,133.4 L113.6,144.1 L115.4,148.2 L117.1,142.9 L119.5,138.8 L121.9,151.2 L123.7,135.8 L126,131 L127.8,138.2 L130.2,151.2 L133.7,158.9 L136.1,151.2 L137.8,143.5 L139.6,142.3 L141.3,148.8 L143.1,167.8 L143.7,174.9 L145.5,160.7 L146.7,157.1 L147.9,167.8 L148.5,177.3 L149.6,167.8 L150.8,170.2 L152.6,174.9 L153.8,165.4 L155,153.6 L156.8,153.6 L158.5,154.8 L160.9,147.6 L162.7,141.7 L164.5,147.6 L166.2,154.8 L168,159.5 L169.8,165.4 L171.6,160.7 L173.9,152.4 L175.7,141.1 L176.9,152.4 L178.1,163 L179.9,157.1 L181.7,153.6 L183.4,141.7 L185.2,128.7 L186.4,141.7 L188.2,152.4 L190.5,151.2 L192.9,165.4 L194.7,156 L195.2,156 L197,165.4 L198.2,172.5 L199.3,156 L201.1,141.1 L202.3,148.8 L204.1,159.5 L205.9,152.4 L207.6,151.2 L209.4,145.3 L210.6,139.3 L212.4,144.1 L213.6,156 L215.3,139.3 L217.1,148.8 L218.3,167.8 L219.5,153.6 L220.7,137 L221.9,142.9 L223.6,150 L225.4,129.9 L227.2,138.2 L229,148.8 L230.8,145.3 L232.5,153.6 L233.1,160.7 L234.3,146.5 L235.7,126.9 L237.3,138.2 L239.1,150 L240.8,140.5 L242.6,136.4 L245,133.4 L246.8,142.9 L248.5,148.8 L250.3,141.7 L252.1,132.2 L253.2,145.3 L255,161.9 L256.7,146.5 L258.5,128.7 L260.3,134.6 L262.7,135.8 L263.9,147.6 L265,161.9 L266.8,141.7 L268,139.3 L269.2,145.3 L270.4,152.4 L272.9,169.6 L274.6,192.2 L275.5,210 L276.3,221.7 L277.2,212 L279,192.2 L280.7,171.3 L282.4,157.4 L285,150.4 L287.2,145.9 L288.4,157.8 L289.2,175.6 L289.9,193.4 L290.6,208.2 L292.4,202.3 L293.9,189 L295.4,169.7 L296.9,151.9 L299.1,148.9 L301.3,141.5 L303.5,151.9 L305,159.3 L306.5,151.9 L309.5,141.5 L310.5,145.3 L312.4,151.2 L314.2,134.6 L315.9,144.1 L317.7,133.4 L319.2,124.5 L321.3,134.6 L323,151.2 L325.4,155.9 L328.4,160.7 L330.8,150 L333.1,155.9 L334.9,151.2 L337.3,155.9 L339.6,154.8 L342,150 L344.4,143.5 L346.8,147.6 L347.9,152.4 L350.3,141.7 L352.7,131 L355.1,140.5 L356.8,145.3 L358,153.6 L359.8,146.5 L362.2,125.1 L364,141.7 L365.7,166.6 L368.1,139.3" fill="none" stroke="#727272" stroke-width="1.2" stroke-dasharray="4,1.55" stroke-linejoin="round"/>
<path d="M68.7,120.2 H382.9 M68.7,174.3 H382.9" fill="none" stroke="#808080" stroke-width="1.5" stroke-dasharray="6.7,1.6,1.2,1.5"/>
</g>
<g clip-path="url(#cl2)">
<path d="M82.5,273.2 L82.8,273.2 L83.1,273.2 L83.4,273.2 L83.7,273.2 L84,273.2 L84.3,273.2 L84.6,273.2 L84.9,273.2 L85.2,273.2 L85.5,273.2 L85.8,273.2 L86.1,273.2 L86.4,273.2 L86.7,273.2 L87,273.2 L87.3,273.2 L87.6,273.2 L87.9,273.2 L88.2,273.2 L88.5,273.2 L88.8,273.2 L89.1,273.2 L89.4,273.2 L89.7,273.2 L90,273.2 L90.3,273.2 L90.6,273.2 L90.9,273.2 L91.2,273.2 L91.5,273.2 L91.8,273.2 L92.1,273.2 L92.4,273.2 L92.7,273.2 L93,273.2 L93.3,273.2 L93.6,273.2 L93.9,273.2 L94.2,273.2 L94.5,273.2 L94.8,273.2 L95.1,273.2 L95.4,273.2 L95.7,273.2 L96,273.2 L96.3,273.2 L96.6,273.2 L96.9,273.2 L97.2,273.2 L97.5,273.2 L97.8,273.2 L98.1,273.2 L98.4,273.2 L98.7,273.2 L99,273.2 L99.3,273.2 L99.6,273.2 L99.9,273.2 L100.2,273.2 L100.5,273.2 L100.8,273.2 L101.1,273.2 L101.4,273.2 L101.7,273.2 L102,273.2 L102.3,273.2 L102.6,273.2 L102.9,273.2 L103.2,273.2 L103.5,273.2 L103.8,273.2 L104.1,273.2 L104.4,273.2 L104.7,273.2 L105,273.2 L105.3,273.2 L105.6,273.2 L105.9,273.2 L106.2,273.2 L106.5,273.2 L106.8,273.2 L107.1,273.2 L107.4,273.2 L107.7,273.2 L108,273.2 L108.3,273.2 L108.6,273.2 L108.9,273.2 L109.2,273.2 L109.5,273.2 L109.8,273.2 L110.1,273.2 L110.4,273.2 L110.7,273.2 L111,273.2 L111.3,273.2 L111.6,273.2 L111.9,273.2 L112.2,273.2 L112.5,273.2 L112.8,273.2 L113.1,273.2 L113.4,273.2 L113.7,273.2 L114,273.2 L114.3,273.2 L114.6,273.2 L114.9,273.2 L115.2,273.2 L115.5,273.2 L115.8,273.2 L116.1,273.2 L116.4,273.2 L116.7,273.2 L117,273.2 L117.3,273.2 L117.6,273.2 L117.9,273.2 L118.2,273.2 L118.5,273.2 L118.8,273.2 L119.1,273.2 L119.4,273.2 L119.7,273.2 L120,273.2 L120.3,273.2 L120.6,273.2 L120.9,273.2 L121.2,273.2 L121.5,273.2 L121.8,273.2 L122.1,273.2 L122.4,273.2 L122.7,273.2 L123,273.2 L123.3,273.2 L123.6,273.2 L123.9,273.2 L124.2,273.2 L124.5,273.2 L124.8,273.2 L125.1,273.2 L125.4,273.2 L125.7,273.2 L126,273.2 L126.3,273.2 L126.6,273.2 L126.9,273.2 L127.2,273.2 L127.5,273.2 L127.8,273.2 L128.1,273.2 L128.4,273.2 L128.7,273.2 L129,273.2 L129.3,273.2 L129.6,273.2 L129.9,273.2 L130.2,273.2 L130.5,273.2 L130.8,273.2 L131.1,273.2 L131.4,273.2 L131.7,273.2 L132,273.2 L132.3,273.2 L132.6,273.2 L132.9,273.2 L133.2,273.2 L133.5,273.2 L133.8,273.2 L134.1,273.2 L134.4,273.2 L134.7,273.2 L135,273.2 L135.3,273.2 L135.6,273.2 L135.9,273.2 L136.2,273.2 L136.5,273.21 L136.8,273.22 L137.1,273.24 L137.4,273.26 L137.7,273.29 L138,273.32 L138.3,273.36 L138.6,273.4 L138.9,273.45 L139.2,273.5 L139.5,273.56 L139.8,273.61 L140.1,273.67 L140.4,273.74 L140.7,273.81 L141,273.88 L141.3,273.95 L141.6,274.02 L141.9,274.1 L142.2,274.19 L142.5,274.29 L142.8,274.42 L143.1,274.56 L143.4,274.72 L143.7,274.9 L144,275.1 L144.3,275.32 L144.6,275.56 L144.9,275.82 L145.2,276.1 L145.5,276.4 L145.8,276.78 L146.1,277.28 L146.4,277.89 L146.7,278.58 L147,279.33 L147.3,280.14 L147.6,280.96 L147.9,281.8 L148.2,282.71 L148.5,283.75 L148.8,284.88 L149.1,286.06 L149.4,287.24 L149.7,288.38 L150,289.45 L150.3,290.42 L150.6,291.44 L150.9,292.52 L151.2,293.6 L151.5,294.6 L151.8,295.47 L152.1,296.13 L152.4,296.52 L152.7,296.58 L153,296.28 L153.3,295.7 L153.6,294.92 L153.9,294 L154.2,293.03 L154.5,292.06 L154.8,290.8 L155.1,289.28 L155.4,287.66 L155.7,286.11 L156,284.78 L156.3,283.82 L156.6,283.03 L156.9,282.31 L157.2,281.66 L157.5,281.07 L157.8,280.53 L158.1,280.03 L158.4,279.55 L158.7,279.1 L159,278.66 L159.3,278.23 L159.6,277.82 L159.9,277.44 L160.2,277.08 L160.5,276.74 L160.8,276.42 L161.1,276.14 L161.4,275.88 L161.7,275.65 L162,275.45 L162.3,275.26 L162.6,275.09 L162.9,274.93 L163.2,274.77 L163.5,274.62 L163.8,274.47 L164.1,274.32 L164.4,274.16 L164.7,273.98 L165,273.76 L165.3,273.54 L165.6,273.32 L165.9,273.12 L166.2,272.98 L166.5,272.91 L166.8,273 L167.1,273.45 L167.4,274.2 L167.7,275.15 L168,276.19 L168.3,277.24 L168.6,278.2 L168.9,279.17 L169.2,280.28 L169.5,281.41 L169.8,282.49 L170.1,283.41 L170.4,284.1 L170.7,284.63 L171,285.15 L171.3,285.6 L171.6,285.97 L171.9,286.21 L172.2,286.3 L172.5,286.2 L172.8,285.94 L173.1,285.54 L173.4,285.04 L173.7,284.49 L174,283.91 L174.3,283.35 L174.6,282.83 L174.9,282.25 L175.2,281.6 L175.5,280.92 L175.8,280.24 L176.1,279.58 L176.4,278.99 L176.7,278.48 L177,278.08 L177.3,277.73 L177.6,277.39 L177.9,277.08 L178.2,276.79 L178.5,276.52 L178.8,276.27 L179.1,276.05 L179.4,275.86 L179.7,275.69 L180,275.56 L180.3,275.44 L180.6,275.33 L180.9,275.24 L181.2,275.15 L181.5,275.08 L181.8,275 L182.1,274.93 L182.4,274.86 L182.7,274.79 L183,274.71 L183.3,274.63 L183.6,274.54 L183.9,274.44 L184.2,274.33 L184.5,274.21 L184.8,274.1 L185.1,273.98 L185.4,273.88 L185.7,273.77 L186,273.68 L186.3,273.61 L186.6,273.55 L186.9,273.51 L187.2,273.49 L187.5,273.47 L187.8,273.45 L188.1,273.43 L188.4,273.41 L188.7,273.4 L189,273.38 L189.3,273.36 L189.6,273.35 L189.9,273.34 L190.2,273.32 L190.5,273.31 L190.8,273.3 L191.1,273.29 L191.4,273.28 L191.7,273.27 L192,273.26 L192.3,273.25 L192.6,273.24 L192.9,273.23 L193.2,273.23 L193.5,273.22 L193.8,273.22 L194.1,273.21 L194.4,273.21 L194.7,273.21 L195,273.2 L195.3,273.2 L195.6,273.2 L195.9,273.2 L196.2,273.2 L196.5,273.2 L196.8,273.2 L197.1,273.2 L197.4,273.2 L197.7,273.2 L198,273.2 L198.3,273.2 L198.6,273.2 L198.9,273.2 L199.2,273.2 L199.5,273.2 L199.8,273.2 L200.1,273.2 L200.4,273.2 L200.7,273.2 L201,273.2 L201.3,273.2 L201.6,273.2 L201.9,273.2 L202.2,273.2 L202.5,273.2 L202.8,273.2 L203.1,273.2 L203.4,273.2 L203.7,273.2 L204,273.2 L204.3,273.2 L204.6,273.2 L204.9,273.2 L205.2,273.2 L205.5,273.2 L205.8,273.2 L206.1,273.21 L206.4,273.21 L206.7,273.21 L207,273.21 L207.3,273.21 L207.6,273.21 L207.9,273.21 L208.2,273.21 L208.5,273.21 L208.8,273.21 L209.1,273.21 L209.4,273.21 L209.7,273.21 L210,273.21 L210.3,273.21 L210.6,273.21 L210.9,273.21 L211.2,273.21 L211.5,273.21 L211.8,273.21 L212.1,273.21 L212.4,273.21 L212.7,273.21 L213,273.22 L213.3,273.22 L213.6,273.22 L213.9,273.22 L214.2,273.22 L214.5,273.22 L214.8,273.22 L215.1,273.22 L215.4,273.22 L215.7,273.22 L216,273.22 L216.3,273.22 L216.6,273.22 L216.9,273.22 L217.2,273.22 L217.5,273.22 L217.8,273.23 L218.1,273.23 L218.4,273.23 L218.7,273.23 L219,273.23 L219.3,273.23 L219.6,273.23 L219.9,273.23 L220.2,273.23 L220.5,273.23 L220.8,273.23 L221.1,273.23 L221.4,273.24 L221.7,273.24 L222,273.24 L222.3,273.24 L222.6,273.24 L222.9,273.24 L223.2,273.24 L223.5,273.24 L223.8,273.24 L224.1,273.24 L224.4,273.24 L224.7,273.25 L225,273.25 L225.3,273.25 L225.6,273.25 L225.9,273.25 L226.2,273.25 L226.5,273.25 L226.8,273.25 L227.1,273.25 L227.4,273.26 L227.7,273.26 L228,273.26 L228.3,273.26 L228.6,273.26 L228.9,273.26 L229.2,273.26 L229.5,273.26 L229.8,273.27 L230.1,273.27 L230.4,273.27 L230.7,273.27 L231,273.27 L231.3,273.27 L231.6,273.27 L231.9,273.27 L232.2,273.28 L232.5,273.28 L232.8,273.28 L233.1,273.28 L233.4,273.28 L233.7,273.28 L234,273.28 L234.3,273.29 L234.6,273.29 L234.9,273.29 L235.2,273.29 L235.5,273.29 L235.8,273.29 L236.1,273.3 L236.4,273.3 L236.7,273.3 L237,273.3 L237.3,273.3 L237.6,273.3 L237.9,273.3 L238.2,273.31 L238.5,273.31 L238.8,273.31 L239.1,273.31 L239.4,273.31 L239.7,273.31 L240,273.32 L240.3,273.32 L240.6,273.32 L240.9,273.32 L241.2,273.32 L241.5,273.33 L241.8,273.33 L242.1,273.33 L242.4,273.33 L242.7,273.33 L243,273.34 L243.3,273.34 L243.6,273.34 L243.9,273.34 L244.2,273.34 L244.5,273.34 L244.8,273.35 L245.1,273.35 L245.4,273.35 L245.7,273.35 L246,273.36 L246.3,273.36 L246.6,273.36 L246.9,273.36 L247.2,273.36 L247.5,273.37 L247.8,273.37 L248.1,273.37 L248.4,273.37 L248.7,273.37 L249,273.38 L249.3,273.38 L249.6,273.38 L249.9,273.38 L250.2,273.39 L250.5,273.39 L250.8,273.39 L251.1,273.39 L251.4,273.4 L251.7,273.4 L252,273.4 L252.3,273.4 L252.6,273.41 L252.9,273.41 L253.2,273.41 L253.5,273.42 L253.8,273.42 L254.1,273.43 L254.4,273.43 L254.7,273.44 L255,273.44 L255.3,273.45 L255.6,273.46 L255.9,273.47 L256.2,273.47 L256.5,273.48 L256.8,273.49 L257.1,273.5 L257.4,273.51 L257.7,273.52 L258,273.54 L258.3,273.55 L258.6,273.56 L258.9,273.57 L259.2,273.59 L259.5,273.6 L259.8,273.62 L260.1,273.64 L260.4,273.65 L260.7,273.67 L261,273.69 L261.3,273.71 L261.6,273.73 L261.9,273.75 L262.2,273.77 L262.5,273.79 L262.8,273.82 L263.1,273.84 L263.4,273.87 L263.7,273.89 L264,273.92 L264.3,273.97 L264.6,274.03 L264.9,274.11 L265.2,274.2 L265.5,274.31 L265.8,274.43 L266.1,274.58 L266.4,274.73 L266.7,274.9 L267,275.09 L267.3,275.29 L267.6,275.5 L267.9,275.73 L268.2,275.97 L268.5,276.23 L268.8,276.5 L269.1,276.83 L269.4,277.28 L269.7,277.84 L270,278.5 L270.3,279.27 L270.6,280.15 L270.9,281.13 L271.2,282.22 L271.5,283.4 L271.8,284.98 L272.1,287.15 L272.4,289.8 L272.7,292.77 L273,295.95 L273.3,299.2 L273.6,302.8 L273.9,306.95 L274.2,311.41 L274.5,315.92 L274.8,320.25 L275.1,324.25 L275.4,328.83 L275.7,333.1 L276,335.6 L276.3,335.42 L276.6,333.72 L276.9,331.18 L277.2,328.39 L277.5,325.61 L277.8,322.25 L278.1,318.42 L278.4,314.32 L278.7,310.16 L279,306.12 L279.3,302.4 L279.6,299.2 L279.9,296.33 L280.2,293.51 L280.5,290.83 L280.8,288.36 L281.1,286.18 L281.4,284.37 L281.7,282.98 L282,281.81 L282.3,280.78 L282.6,279.87 L282.9,279.06 L283.2,278.35 L283.5,277.7 L283.8,277.1 L284.1,276.5 L284.4,275.9 L284.7,275.31 L285,274.74 L285.3,274.2 L285.6,273.7 L285.9,273.25 L286.2,272.85 L286.5,272.52 L286.8,272.26 L287.1,272.09 L287.4,272.01 L287.7,272.1 L288,272.62 L288.3,273.51 L288.6,274.71 L288.9,276.16 L289.2,277.77 L289.5,279.5 L289.8,282.07 L290.1,285.85 L290.4,290.22 L290.7,294.55 L291,298.23 L291.3,301.06 L291.6,303.93 L291.9,306.52 L292.2,308.38 L292.5,309.1 L292.8,308.62 L293.1,307.35 L293.4,305.56 L293.7,303.51 L294,301.46 L294.3,299.69 L294.6,298.29 L294.9,296.94 L295.2,295.61 L295.5,294.3 L295.8,293.03 L296.1,291.81 L296.4,290.66 L296.7,289.58 L297,288.58 L297.3,287.68 L297.6,286.86 L297.9,286.08 L298.2,285.33 L298.5,284.61 L298.8,283.92 L299.1,283.26 L299.4,282.63 L299.7,282.04 L300,281.49 L300.3,280.96 L300.6,280.48 L300.9,280.03 L301.2,279.63 L301.5,279.25 L301.8,278.9 L302.1,278.56 L302.4,278.23 L302.7,277.93 L303,277.63 L303.3,277.35 L303.6,277.09 L303.9,276.85 L304.2,276.62 L304.5,276.4 L304.8,276.2 L305.1,276.01 L305.4,275.84 L305.7,275.68 L306,275.51 L306.3,275.34 L306.6,275.18 L306.9,275.02 L307.2,274.87 L307.5,274.71 L307.8,274.57 L308.1,274.43 L308.4,274.3 L308.7,274.18 L309,274.07 L309.3,273.96 L309.6,273.87 L309.9,273.79 L310.2,273.72 L310.5,273.67 L310.8,273.63 L311.1,273.6 L311.4,273.59 L311.7,273.58 L312,273.57 L312.3,273.56 L312.6,273.55 L312.9,273.54 L313.2,273.53 L313.5,273.52 L313.8,273.51 L314.1,273.51 L314.4,273.5 L314.7,273.49 L315,273.48 L315.3,273.47 L315.6,273.46 L315.9,273.46 L316.2,273.45 L316.5,273.44 L316.8,273.44 L317.1,273.43 L317.4,273.42 L317.7,273.42 L318,273.41 L318.3,273.4 L318.6,273.4 L318.9,273.39 L319.2,273.39 L319.5,273.38 L319.8,273.38 L320.1,273.37 L320.4,273.37 L320.7,273.36 L321,273.36 L321.3,273.35 L321.6,273.35 L321.9,273.35 L322.2,273.34 L322.5,273.34 L322.8,273.34 L323.1,273.33 L323.4,273.33 L323.7,273.33 L324,273.32 L324.3,273.32 L324.6,273.32 L324.9,273.32 L325.2,273.32 L325.5,273.31 L325.8,273.31 L326.1,273.31 L326.4,273.31 L326.7,273.31 L327,273.31 L327.3,273.3 L327.6,273.3 L327.9,273.3 L328.2,273.3 L328.5,273.3 L328.8,273.3 L329.1,273.3 L329.4,273.3 L329.7,273.3 L330,273.3 L330.3,273.3 L330.6,273.3 L330.9,273.3 L331.2,273.3 L331.5,273.3 L331.8,273.3 L332.1,273.3 L332.4,273.3 L332.7,273.3 L333,273.3 L333.3,273.3 L333.6,273.3 L333.9,273.3 L334.2,273.3 L334.5,273.3 L334.8,273.3 L335.1,273.3 L335.4,273.3 L335.7,273.3 L336,273.3 L336.3,273.3 L336.6,273.3 L336.9,273.3 L337.2,273.3 L337.5,273.3 L337.8,273.3 L338.1,273.3 L338.4,273.3 L338.7,273.3 L339,273.3 L339.3,273.3 L339.6,273.3 L339.9,273.3 L340.2,273.3 L340.5,273.3 L340.8,273.3 L341.1,273.3 L341.4,273.3 L341.7,273.3 L342,273.3 L342.3,273.3 L342.6,273.3 L342.9,273.3 L343.2,273.3 L343.5,273.3 L343.8,273.3 L344.1,273.3 L344.4,273.3 L344.7,273.3 L345,273.3 L345.3,273.3 L345.6,273.3 L345.9,273.3 L346.2,273.3 L346.5,273.3 L346.8,273.3 L347.1,273.3 L347.4,273.3 L347.7,273.3 L348,273.3 L348.3,273.3 L348.6,273.3 L348.9,273.3 L349.2,273.3 L349.5,273.3 L349.8,273.3 L350.1,273.3 L350.4,273.3 L350.7,273.3 L351,273.3 L351.3,273.3 L351.6,273.3 L351.9,273.3 L352.2,273.3 L352.5,273.3 L352.8,273.3 L353.1,273.3 L353.4,273.3 L353.7,273.3 L354,273.3 L354.3,273.3 L354.6,273.3 L354.9,273.3 L355.2,273.3 L355.5,273.3 L355.8,273.3 L356.1,273.3 L356.4,273.3 L356.7,273.3 L357,273.3 L357.3,273.3 L357.6,273.3 L357.9,273.3 L358.2,273.3 L358.5,273.3 L358.8,273.3 L359.1,273.3 L359.4,273.3 L359.7,273.3 L360,273.3 L360.3,273.3 L360.6,273.3 L360.9,273.3 L361.2,273.3 L361.5,273.3 L361.8,273.3 L362.1,273.3 L362.4,273.3 L362.7,273.3 L363,273.3 L363.3,273.3 L363.6,273.3 L363.9,273.3 L364.2,273.3 L364.5,273.3 L364.8,273.3 L365.1,273.3 L365.4,273.3 L365.7,273.3 L366,273.3 L366.3,273.3 L366.6,273.3 L366.9,273.3 L367.2,273.3 L367.5,273.3 L367.8,273.3 L368.1,273.3 L368.4,273.3 L368.7,273.3 L369,273.3" fill="none" stroke="#ff0000" stroke-width="1.25" stroke-linejoin="round"/>
<path d="M83.3,272.9 L85.1,267.5 L88.1,256.9 L89.9,266.9 L91.6,272.3 L94,285.3 L95.8,264 L97.6,282.9 L99.3,268.7 L100.5,255.7 L102.3,273.5 L104.7,282.9 L107.1,292.4 L108.2,273.5 L110,256.9 L112.4,269.9 L114.2,278.2 L116.2,296 L117.7,267.5 L119.5,262.8 L121.3,260.4 L122.8,248.6 L124.8,265.2 L126,275.8 L127.8,266.3 L130.2,266.3 L132.5,273.5 L136.1,266.3 L137.8,268.1 L139.6,272.3 L141.3,277 L143.1,282.9 L144.9,278.2 L146.7,281.8 L149,286.5 L151.4,299.5 L153.4,307.5 L155,294.8 L156.8,284.1 L158.5,281.8 L160.3,273.5 L162.1,264 L163.3,258 L165.1,265.2 L166.2,269.9 L167.4,274.6 L169.2,292.1 L170.5,307 L172.2,291.2 L173.9,277 L175.1,274.6 L176.9,268.7 L178.7,267.5 L180.5,264 L182.2,272.3 L184,268.7 L185.2,264 L186.4,274.6 L188.2,290.1 L190.3,256.9 L192.3,268.7 L194.3,300.5 L195.8,268.7 L197.6,253.3 L199.3,260.4 L200.5,256.9 L202.3,268.7 L203.5,276.4 L205.3,273.5 L207,264 L208.8,255.1 L210.6,268.7 L211.8,272.9 L213.6,271.1 L215.3,265.2 L217.1,275.8 L218.9,264 L220.3,253.3 L221.9,266.3 L223.1,267.5 L224.8,269.9 L227.2,274.6 L229,272.3 L230.8,272.3 L232,259.2 L233.5,245.6 L234.9,259.2 L236.1,287.7 L237.9,272.3 L239.1,262.8 L240.2,271.1 L241.4,287.7 L242.6,271.1 L244,256.9 L245.6,274.6 L246.8,288.9 L248.5,275.8 L250.9,274.1 L252,272.6 L255,269.6 L257.9,293.3 L261.9,249.9 L263.8,279.5 L266.8,271.6 L269.8,261.7 L271.7,279.5 L273.7,299.2 L275.3,322.9 L276.7,330.8 L277.5,325 L279.6,299.2 L281.6,279.5 L284.6,275.5 L287.1,271.6 L289.5,287.4 L291.1,315 L292.5,326.8 L294.4,307.1 L297.4,285.4 L300.4,269.6 L302.3,267.6 L304.3,299.2 L306.3,275.5 L308.2,257.8 L310,267.5 L311.2,273.5 L313,279.4 L314.7,277 L316.5,275.8 L317.7,266.3 L318.9,253.3 L320.4,262.8 L321.9,273.5 L323,281.8 L324.2,287.7 L326,283 L327.8,274.6 L329,264 L330.2,275.8 L331.9,285.3 L334.3,290.1 L336.1,280.6 L337.9,271.1 L340.2,268.7 L343.2,262.8 L345.6,266.3 L347.9,280.6 L349.7,262.8 L350.9,256.9 L352.7,271.1 L354.5,273.5 L356.2,274.6 L357.4,288.9 L358.6,268.7 L360.4,265.2 L362.2,273.5 L364.3,262.8 L366.3,271.1 L368.1,273.5" fill="none" stroke="#727272" stroke-width="1.2" stroke-dasharray="4,1.55" stroke-linejoin="round"/>
<path d="M68.7,238.1 H382.9 M68.7,308.4 H382.9" fill="none" stroke="#808080" stroke-width="1.5" stroke-dasharray="6.7,1.6,1.2,1.5"/>
</g>
<g clip-path="url(#cl3)">
<path d="M82.5,377.2 L82.8,377.2 L83.1,377.2 L83.4,377.2 L83.7,377.2 L84,377.2 L84.3,377.2 L84.6,377.2 L84.9,377.2 L85.2,377.2 L85.5,377.2 L85.8,377.2 L86.1,377.2 L86.4,377.2 L86.7,377.2 L87,377.21 L87.3,377.21 L87.6,377.21 L87.9,377.21 L88.2,377.21 L88.5,377.21 L88.8,377.21 L89.1,377.21 L89.4,377.21 L89.7,377.21 L90,377.21 L90.3,377.22 L90.6,377.22 L90.9,377.22 L91.2,377.22 L91.5,377.22 L91.8,377.22 L92.1,377.22 L92.4,377.23 L92.7,377.23 L93,377.23 L93.3,377.23 L93.6,377.23 L93.9,377.23 L94.2,377.24 L94.5,377.24 L94.8,377.24 L95.1,377.24 L95.4,377.24 L95.7,377.24 L96,377.25 L96.3,377.25 L96.6,377.25 L96.9,377.25 L97.2,377.26 L97.5,377.26 L97.8,377.26 L98.1,377.26 L98.4,377.26 L98.7,377.27 L99,377.27 L99.3,377.27 L99.6,377.27 L99.9,377.28 L100.2,377.28 L100.5,377.28 L100.8,377.28 L101.1,377.29 L101.4,377.29 L101.7,377.29 L102,377.29 L102.3,377.3 L102.6,377.3 L102.9,377.3 L103.2,377.31 L103.5,377.31 L103.8,377.31 L104.1,377.32 L104.4,377.32 L104.7,377.32 L105,377.32 L105.3,377.33 L105.6,377.33 L105.9,377.33 L106.2,377.34 L106.5,377.34 L106.8,377.34 L107.1,377.35 L107.4,377.35 L107.7,377.35 L108,377.36 L108.3,377.36 L108.6,377.36 L108.9,377.37 L109.2,377.37 L109.5,377.38 L109.8,377.38 L110.1,377.38 L110.4,377.39 L110.7,377.39 L111,377.39 L111.3,377.4 L111.6,377.4 L111.9,377.41 L112.2,377.41 L112.5,377.41 L112.8,377.42 L113.1,377.42 L113.4,377.43 L113.7,377.44 L114,377.44 L114.3,377.45 L114.6,377.45 L114.9,377.46 L115.2,377.47 L115.5,377.48 L115.8,377.48 L116.1,377.49 L116.4,377.5 L116.7,377.51 L117,377.52 L117.3,377.53 L117.6,377.54 L117.9,377.55 L118.2,377.56 L118.5,377.57 L118.8,377.58 L119.1,377.59 L119.4,377.61 L119.7,377.62 L120,377.63 L120.3,377.64 L120.6,377.66 L120.9,377.67 L121.2,377.69 L121.5,377.7 L121.8,377.72 L122.1,377.73 L122.4,377.75 L122.7,377.76 L123,377.78 L123.3,377.8 L123.6,377.82 L123.9,377.83 L124.2,377.85 L124.5,377.87 L124.8,377.89 L125.1,377.91 L125.4,377.93 L125.7,377.95 L126,377.97 L126.3,377.99 L126.6,378.02 L126.9,378.04 L127.2,378.06 L127.5,378.08 L127.8,378.11 L128.1,378.13 L128.4,378.16 L128.7,378.18 L129,378.21 L129.3,378.24 L129.6,378.28 L129.9,378.32 L130.2,378.36 L130.5,378.41 L130.8,378.47 L131.1,378.53 L131.4,378.59 L131.7,378.66 L132,378.74 L132.3,378.81 L132.6,378.89 L132.9,378.98 L133.2,379.07 L133.5,379.16 L133.8,379.25 L134.1,379.35 L134.4,379.45 L134.7,379.56 L135,379.67 L135.3,379.77 L135.6,379.89 L135.9,380 L136.2,380.12 L136.5,380.26 L136.8,380.4 L137.1,380.56 L137.4,380.73 L137.7,380.91 L138,381.1 L138.3,381.31 L138.6,381.52 L138.9,381.74 L139.2,381.98 L139.5,382.22 L139.8,382.47 L140.1,382.73 L140.4,383 L140.7,383.28 L141,383.58 L141.3,383.89 L141.6,384.22 L141.9,384.58 L142.2,384.96 L142.5,385.37 L142.8,385.81 L143.1,386.28 L143.4,386.78 L143.7,387.32 L144,387.9 L144.3,388.55 L144.6,389.37 L144.9,390.33 L145.2,391.4 L145.5,392.53 L145.8,393.69 L146.1,394.85 L146.4,395.97 L146.7,397.11 L147,398.29 L147.3,399.49 L147.6,400.71 L147.9,401.95 L148.2,403.18 L148.5,404.4 L148.8,405.78 L149.1,407.38 L149.4,409 L149.7,410.46 L150,411.58 L150.3,412.16 L150.6,412.03 L150.9,411.24 L151.2,409.94 L151.5,408.31 L151.8,406.51 L152.1,404.42 L152.4,401.41 L152.7,397.83 L153,394.09 L153.3,390.62 L153.6,387.58 L153.9,384.44 L154.2,381.4 L154.5,378.75 L154.8,376.77 L155.1,375.51 L155.4,374.44 L155.7,373.51 L156,372.74 L156.3,372.13 L156.6,371.7 L156.9,371.42 L157.2,371.17 L157.5,370.94 L157.8,370.73 L158.1,370.55 L158.4,370.39 L158.7,370.27 L159,370.18 L159.3,370.12 L159.6,370.1 L159.9,370.1 L160.2,370.12 L160.5,370.13 L160.8,370.16 L161.1,370.19 L161.4,370.22 L161.7,370.26 L162,370.3 L162.3,370.35 L162.6,370.4 L162.9,370.46 L163.2,370.54 L163.5,370.63 L163.8,370.75 L164.1,370.88 L164.4,371.04 L164.7,371.22 L165,371.42 L165.3,371.65 L165.6,371.9 L165.9,372.18 L166.2,372.49 L166.5,372.89 L166.8,373.55 L167.1,374.46 L167.4,375.58 L167.7,376.87 L168,378.29 L168.3,379.86 L168.6,381.97 L168.9,384.61 L169.2,387.55 L169.5,390.61 L169.8,393.59 L170.1,396.71 L170.4,399.99 L170.7,403.34 L171,406.7 L171.3,410.02 L171.6,413.67 L171.9,417.45 L172.2,420.97 L172.5,423.84 L172.8,425.75 L173.1,427.32 L173.4,428.52 L173.7,429 L174,428.69 L174.3,427.86 L174.6,426.66 L174.9,425.22 L175.2,423.7 L175.5,421.67 L175.8,418.89 L176.1,415.79 L176.4,412.82 L176.7,410.4 L177,408.45 L177.3,406.61 L177.6,404.88 L177.9,403.24 L178.2,401.69 L178.5,400.24 L178.8,398.87 L179.1,397.58 L179.4,396.37 L179.7,395.23 L180,394.17 L180.3,393.18 L180.6,392.25 L180.9,391.37 L181.2,390.53 L181.5,389.71 L181.8,388.9 L182.1,388.09 L182.4,387.26 L182.7,386.41 L183,385.5 L183.3,384.53 L183.6,383.54 L183.9,382.56 L184.2,381.62 L184.5,380.74 L184.8,379.95 L185.1,379.28 L185.4,378.75 L185.7,378.4 L186,378.09 L186.3,377.8 L186.6,377.53 L186.9,377.28 L187.2,377.06 L187.5,376.88 L187.8,376.74 L188.1,376.65 L188.4,376.6 L188.7,376.6 L189,376.6 L189.3,376.6 L189.6,376.6 L189.9,376.61 L190.2,376.61 L190.5,376.61 L190.8,376.62 L191.1,376.62 L191.4,376.62 L191.7,376.63 L192,376.64 L192.3,376.64 L192.6,376.65 L192.9,376.65 L193.2,376.66 L193.5,376.67 L193.8,376.67 L194.1,376.68 L194.4,376.69 L194.7,376.69 L195,376.7 L195.3,376.71 L195.6,376.71 L195.9,376.72 L196.2,376.73 L196.5,376.73 L196.8,376.74 L197.1,376.75 L197.4,376.75 L197.7,376.76 L198,376.77 L198.3,376.77 L198.6,376.78 L198.9,376.78 L199.2,376.79 L199.5,376.79 L199.8,376.8 L200.1,376.8 L200.4,376.8 L200.7,376.81 L201,376.81 L201.3,376.82 L201.6,376.82 L201.9,376.82 L202.2,376.83 L202.5,376.83 L202.8,376.83 L203.1,376.83 L203.4,376.84 L203.7,376.84 L204,376.84 L204.3,376.85 L204.6,376.85 L204.9,376.85 L205.2,376.85 L205.5,376.86 L205.8,376.86 L206.1,376.86 L206.4,376.86 L206.7,376.87 L207,376.87 L207.3,376.87 L207.6,376.87 L207.9,376.87 L208.2,376.88 L208.5,376.88 L208.8,376.88 L209.1,376.88 L209.4,376.89 L209.7,376.89 L210,376.89 L210.3,376.89 L210.6,376.89 L210.9,376.9 L211.2,376.9 L211.5,376.9 L211.8,376.9 L212.1,376.9 L212.4,376.91 L212.7,376.91 L213,376.91 L213.3,376.91 L213.6,376.92 L213.9,376.92 L214.2,376.92 L214.5,376.92 L214.8,376.93 L215.1,376.93 L215.4,376.93 L215.7,376.93 L216,376.94 L216.3,376.94 L216.6,376.94 L216.9,376.94 L217.2,376.95 L217.5,376.95 L217.8,376.95 L218.1,376.96 L218.4,376.96 L218.7,376.96 L219,376.97 L219.3,376.97 L219.6,376.97 L219.9,376.98 L220.2,376.98 L220.5,376.98 L220.8,376.99 L221.1,376.99 L221.4,376.99 L221.7,377 L222,377 L222.3,377.01 L222.6,377.01 L222.9,377.02 L223.2,377.02 L223.5,377.02 L223.8,377.03 L224.1,377.03 L224.4,377.04 L224.7,377.04 L225,377.05 L225.3,377.05 L225.6,377.06 L225.9,377.06 L226.2,377.07 L226.5,377.08 L226.8,377.08 L227.1,377.09 L227.4,377.09 L227.7,377.1 L228,377.1 L228.3,377.11 L228.6,377.12 L228.9,377.12 L229.2,377.13 L229.5,377.14 L229.8,377.14 L230.1,377.15 L230.4,377.15 L230.7,377.16 L231,377.17 L231.3,377.18 L231.6,377.18 L231.9,377.19 L232.2,377.2 L232.5,377.2 L232.8,377.21 L233.1,377.22 L233.4,377.23 L233.7,377.24 L234,377.24 L234.3,377.25 L234.6,377.26 L234.9,377.27 L235.2,377.28 L235.5,377.28 L235.8,377.29 L236.1,377.3 L236.4,377.31 L236.7,377.32 L237,377.33 L237.3,377.34 L237.6,377.35 L237.9,377.36 L238.2,377.37 L238.5,377.38 L238.8,377.39 L239.1,377.39 L239.4,377.4 L239.7,377.41 L240,377.43 L240.3,377.44 L240.6,377.45 L240.9,377.46 L241.2,377.47 L241.5,377.48 L241.8,377.49 L242.1,377.5 L242.4,377.51 L242.7,377.52 L243,377.53 L243.3,377.55 L243.6,377.56 L243.9,377.57 L244.2,377.58 L244.5,377.59 L244.8,377.6 L245.1,377.62 L245.4,377.63 L245.7,377.64 L246,377.65 L246.3,377.67 L246.6,377.68 L246.9,377.69 L247.2,377.71 L247.5,377.72 L247.8,377.73 L248.1,377.75 L248.4,377.76 L248.7,377.78 L249,377.79 L249.3,377.8 L249.6,377.82 L249.9,377.83 L250.2,377.85 L250.5,377.86 L250.8,377.88 L251.1,377.89 L251.4,377.91 L251.7,377.92 L252,377.94 L252.3,377.95 L252.6,377.97 L252.9,377.98 L253.2,378 L253.5,378.02 L253.8,378.03 L254.1,378.05 L254.4,378.07 L254.7,378.08 L255,378.1 L255.3,378.12 L255.6,378.13 L255.9,378.15 L256.2,378.17 L256.5,378.19 L256.8,378.21 L257.1,378.23 L257.4,378.26 L257.7,378.28 L258,378.31 L258.3,378.34 L258.6,378.37 L258.9,378.4 L259.2,378.44 L259.5,378.48 L259.8,378.52 L260.1,378.57 L260.4,378.61 L260.7,378.66 L261,378.72 L261.3,378.8 L261.6,378.9 L261.9,379.02 L262.2,379.17 L262.5,379.33 L262.8,379.52 L263.1,379.74 L263.4,379.97 L263.7,380.22 L264,380.49 L264.3,380.78 L264.6,381.08 L264.9,381.41 L265.2,381.75 L265.5,382.1 L265.8,382.47 L266.1,382.88 L266.4,383.38 L266.7,383.98 L267,384.68 L267.3,385.46 L267.6,386.32 L267.9,387.26 L268.2,388.28 L268.5,389.36 L268.8,390.5 L269.1,391.82 L269.4,393.39 L269.7,395.2 L270,397.19 L270.3,399.33 L270.6,401.59 L270.9,403.93 L271.2,406.3 L271.5,408.85 L271.8,411.69 L272.1,414.71 L272.4,417.84 L272.7,420.98 L273,424.05 L273.3,426.97 L273.6,430.05 L273.9,433.18 L274.2,436.11 L274.5,438.6 L274.8,440.48 L275.1,442.08 L275.4,442.43 L275.7,441.51 L276,439.74 L276.3,437.43 L276.6,434.86 L276.9,432.03 L277.2,428.25 L277.5,423.73 L277.8,418.76 L278.1,413.65 L278.4,408.59 L278.7,402.81 L279,396.62 L279.3,390.74 L279.6,385.87 L279.9,382.3 L280.2,379.05 L280.5,376.18 L280.8,373.84 L281.1,372.18 L281.4,371.16 L281.7,370.25 L282,369.44 L282.3,368.72 L282.6,368.13 L282.9,367.67 L283.2,367.36 L283.5,367.21 L283.8,367.2 L284.1,367.2 L284.4,367.2 L284.7,367.2 L285,367.2 L285.3,367.2 L285.6,367.2 L285.9,367.2 L286.2,367.2 L286.5,367.2 L286.8,367.24 L287.1,367.45 L287.4,367.82 L287.7,368.32 L288,368.93 L288.3,369.63 L288.6,370.4 L288.9,371.51 L289.2,373.2 L289.5,375.35 L289.8,377.87 L290.1,380.65 L290.4,383.6 L290.7,386.82 L291,390.84 L291.3,395.42 L291.6,400.3 L291.9,405.18 L292.2,409.86 L292.5,414.96 L292.8,420.22 L293.1,425.09 L293.4,429 L293.7,431.85 L294,434.43 L294.3,436.2 L294.6,436.55 L294.9,435.82 L295.2,434.4 L295.5,432.51 L295.8,430.33 L296.1,428.09 L296.4,426 L296.7,423.88 L297,421.5 L297.3,418.97 L297.6,416.42 L297.9,413.94 L298.2,411.66 L298.5,409.66 L298.8,407.77 L299.1,405.93 L299.4,404.14 L299.7,402.41 L300,400.77 L300.3,399.22 L300.6,397.77 L300.9,396.43 L301.2,395.23 L301.5,394.16 L301.8,393.15 L302.1,392.2 L302.4,391.3 L302.7,390.45 L303,389.63 L303.3,388.86 L303.6,388.13 L303.9,387.43 L304.2,386.77 L304.5,386.14 L304.8,385.54 L305.1,384.97 L305.4,384.42 L305.7,383.87 L306,383.32 L306.3,382.77 L306.6,382.23 L306.9,381.7 L307.2,381.18 L307.5,380.68 L307.8,380.21 L308.1,379.76 L308.4,379.34 L308.7,378.96 L309,378.62 L309.3,378.32 L309.6,378.07 L309.9,377.87 L310.2,377.73 L310.5,377.64 L310.8,377.55 L311.1,377.47 L311.4,377.4 L311.7,377.32 L312,377.25 L312.3,377.19 L312.6,377.13 L312.9,377.08 L313.2,377.03 L313.5,376.99 L313.8,376.96 L314.1,376.93 L314.4,376.92 L314.7,376.9 L315,376.9 L315.3,376.9 L315.6,376.9 L315.9,376.9 L316.2,376.9 L316.5,376.9 L316.8,376.9 L317.1,376.9 L317.4,376.9 L317.7,376.9 L318,376.9 L318.3,376.9 L318.6,376.9 L318.9,376.9 L319.2,376.9 L319.5,376.9 L319.8,376.9 L320.1,376.9 L320.4,376.9 L320.7,376.9 L321,376.9 L321.3,376.9 L321.6,376.9 L321.9,376.9 L322.2,376.9 L322.5,376.9 L322.8,376.9 L323.1,376.9 L323.4,376.9 L323.7,376.9 L324,376.9 L324.3,376.9 L324.6,376.9 L324.9,376.9 L325.2,376.9 L325.5,376.9 L325.8,376.9 L326.1,376.9 L326.4,376.9 L326.7,376.9 L327,376.9 L327.3,376.9 L327.6,376.9 L327.9,376.9 L328.2,376.9 L328.5,376.9 L328.8,376.9 L329.1,376.9 L329.4,376.9 L329.7,376.9 L330,376.9 L330.3,376.9 L330.6,376.9 L330.9,376.9 L331.2,376.9 L331.5,376.9 L331.8,376.9 L332.1,376.9 L332.4,376.9 L332.7,376.9 L333,376.9 L333.3,376.9 L333.6,376.9 L333.9,376.9 L334.2,376.9 L334.5,376.9 L334.8,376.9 L335.1,376.91 L335.4,376.91 L335.7,376.91 L336,376.91 L336.3,376.91 L336.6,376.91 L336.9,376.91 L337.2,376.91 L337.5,376.91 L337.8,376.91 L338.1,376.91 L338.4,376.91 L338.7,376.91 L339,376.91 L339.3,376.91 L339.6,376.91 L339.9,376.91 L340.2,376.91 L340.5,376.91 L340.8,376.91 L341.1,376.91 L341.4,376.91 L341.7,376.91 L342,376.91 L342.3,376.91 L342.6,376.91 L342.9,376.91 L343.2,376.91 L343.5,376.91 L343.8,376.92 L344.1,376.92 L344.4,376.92 L344.7,376.92 L345,376.92 L345.3,376.92 L345.6,376.92 L345.9,376.92 L346.2,376.92 L346.5,376.92 L346.8,376.92 L347.1,376.92 L347.4,376.92 L347.7,376.92 L348,376.92 L348.3,376.92 L348.6,376.92 L348.9,376.92 L349.2,376.93 L349.5,376.93 L349.8,376.93 L350.1,376.93 L350.4,376.93 L350.7,376.93 L351,376.93 L351.3,376.93 L351.6,376.93 L351.9,376.93 L352.2,376.93 L352.5,376.93 L352.8,376.93 L353.1,376.94 L353.4,376.94 L353.7,376.94 L354,376.94 L354.3,376.94 L354.6,376.94 L354.9,376.94 L355.2,376.94 L355.5,376.94 L355.8,376.94 L356.1,376.94 L356.4,376.95 L356.7,376.95 L357,376.95 L357.3,376.95 L357.6,376.95 L357.9,376.95 L358.2,376.95 L358.5,376.95 L358.8,376.95 L359.1,376.95 L359.4,376.96 L359.7,376.96 L360,376.96 L360.3,376.96 L360.6,376.96 L360.9,376.96 L361.2,376.96 L361.5,376.96 L361.8,376.97 L362.1,376.97 L362.4,376.97 L362.7,376.97 L363,376.97 L363.3,376.97 L363.6,376.97 L363.9,376.97 L364.2,376.98 L364.5,376.98 L364.8,376.98 L365.1,376.98 L365.4,376.98 L365.7,376.98 L366,376.98 L366.3,376.99 L366.6,376.99 L366.9,376.99 L367.2,376.99 L367.5,376.99 L367.8,376.99 L368.1,377 L368.4,377 L368.7,377 L369,377" fill="none" stroke="#ff0000" stroke-width="1.25" stroke-linejoin="round"/>
<path d="M82.7,371.1 L83.9,368.7 L85.5,373.4 L87.1,378.9 L88.3,372.6 L89.4,367.5 L91,371.1 L92.2,377.4 L93.4,375.8 L94.6,372.6 L95.8,369.1 L97.3,371.8 L98.9,375.8 L100.5,374.6 L102.5,377 L104.1,373.8 L105.2,371.8 L106.8,380.5 L108.4,375.8 L110,373.4 L111.2,377.4 L112.7,380.5 L113.5,385.3 L115.1,380.5 L116.7,375.8 L118.3,378.2 L120.6,378.2 L122.6,378.9 L125.4,375.8 L127.3,378.9 L129.3,383.7 L130.9,378.9 L132.5,376.6 L134.4,375.8 L136.4,373 L137.6,372 L139.6,371.1 L141.9,377.8 L144.1,385.9 L146.3,395.6 L148.5,404.4 L150.4,412.6 L151.9,405.9 L153.4,389.6 L154.9,376.3 L157.4,371.1 L160.4,374.8 L163.3,379.3 L165.6,373.3 L167.5,378 L169.7,392.6 L171.2,408.9 L172.5,421 L173.2,424 L174.2,418 L175.9,401.5 L178.9,392.6 L182.6,386.7 L185.6,378.5 L186.8,373.8 L188.7,375.7 L189.6,382.1 L191,376.1 L192.4,378.4 L194.2,384 L196.5,381.2 L199.3,376.1 L201.6,383 L204.3,377.5 L206.2,373.8 L208.5,378.4 L209.4,384 L210.8,379.3 L212.2,368.8 L214,374.7 L215.4,384 L217.2,379.3 L219.1,382.1 L220.5,386.7 L221.8,380.3 L223.7,385.8 L226,381.2 L228.3,379.3 L230.1,378.4 L232,372.9 L233.8,378.4 L235.7,374.7 L237.5,379.3 L239.3,377.5 L241.2,373.4 L243.9,375.7 L246.3,381.2 L248.6,378.4 L251.3,376.1 L253.6,378.4 L257,378 L260,376 L262.9,378.7 L265.9,369.8 L266.8,378.7 L268.8,390.5 L271.2,406.3 L273.2,426 L274.7,445.5 L276.7,434 L278.3,410.3 L279.7,384.6 L281.2,368 L282.6,358 L284,366 L285.5,370 L287,362 L288.6,370.4 L290.5,384.6 L292.5,410.3 L294.5,441.8 L295.5,452.7 L297.4,437.9 L299.4,418.2 L302.4,398.4 L305.3,384.6 L308.3,373.7 L310.3,376.7 L311.6,379.8 L314,376.6 L316.3,379 L317.9,377.4 L319.1,383.7 L320.7,375.8 L322.3,369.1 L323.8,372.6 L325.8,379 L327.8,372.6 L329.4,367.5 L331.3,371.9 L332.9,376.6 L334.5,379.8 L336.5,378.6 L338.5,375.8 L340.4,371.9 L341.6,368.3 L342.8,374.2 L344.4,378.2 L346.8,377.8 L349.1,379 L350.3,382.9 L351.1,390 L351.9,383.7 L353.1,382.1 L355.1,380.9 L356.6,378.2 L357.8,373 L359.4,376.6 L361,381.3 L362.6,376.6 L365.3,373.4 L366.9,375.8 L368.5,381.3" fill="none" stroke="#727272" stroke-width="1.2" stroke-dasharray="4,1.55" stroke-linejoin="round"/>
<path d="M68.7,360.3 H382.9 M68.7,393.9 H382.9" fill="none" stroke="#808080" stroke-width="1.5" stroke-dasharray="6.7,1.6,1.2,1.5"/>
</g>
<path d="M164.3,0.3 V107.7" fill="none" stroke="#000" stroke-width="0.9" stroke-dasharray="1,1.8"/>
<path d="M287.2,0.3 V107.7" fill="none" stroke="#000" stroke-width="0.9" stroke-dasharray="1,1.8"/>
<path d="M164.3,119.3 V226.3" fill="none" stroke="#000" stroke-width="0.9" stroke-dasharray="1,1.8"/>
<path d="M287.2,119.3 V226.3" fill="none" stroke="#000" stroke-width="0.9" stroke-dasharray="1,1.8"/>
<path d="M164.3,233.5 V340.5" fill="none" stroke="#000" stroke-width="0.9" stroke-dasharray="1,1.8"/>
<path d="M287.2,233.5 V340.5" fill="none" stroke="#000" stroke-width="0.9" stroke-dasharray="1,1.8"/>
<path d="M164.3,351.6 V459" fill="none" stroke="#000" stroke-width="0.9" stroke-dasharray="1,1.8"/>
<path d="M287.2,351.6 V459" fill="none" stroke="#000" stroke-width="0.9" stroke-dasharray="1,1.8"/>
<g clip-path="url(#cr0)">
<path d="M399,103.2 L400,103.18 L401,103.17 L402,103.15 L403,103.13 L404,103.12 L405.01,103.1 L406.01,103.09 L407.01,103.07 L408.01,103.05 L409.01,103.04 L410.01,103.02 L411.01,103 L412.01,102.99 L413.01,102.97 L414.01,102.96 L415.02,102.94 L416.02,102.92 L417.02,102.91 L418.02,102.89 L419.02,102.88 L420.02,102.86 L421.02,102.84 L422.02,102.83 L423.02,102.81 L424.02,102.8 L425.02,102.78 L426.03,102.76 L427.03,102.75 L428.03,102.73 L429.03,102.72 L430.03,102.7 L431.03,102.68 L432.03,102.67 L433.03,102.65 L434.03,102.64 L435.03,102.63 L436.04,102.61 L437.04,102.6 L438.04,102.58 L439.04,102.57 L440.04,102.56 L441.04,102.55 L442.04,102.53 L443.04,102.52 L444.04,102.51 L445.04,102.49 L446.04,102.48 L447.05,102.46 L448.05,102.45 L449.05,102.44 L450.05,102.42 L451.05,102.41 L452.05,102.39 L453.05,102.37 L454.05,102.36 L455.05,102.34 L456.05,102.32 L457.06,102.3 L458.06,102.28 L459.06,102.26 L460.06,102.24 L461.06,102.22 L462.06,102.2 L463.06,102.17 L464.06,102.15 L465.06,102.12 L466.06,102.09 L467.06,102.05 L468.07,102.02 L469.07,101.98 L470.07,101.94 L471.07,101.9 L472.07,101.86 L473.07,101.82 L474.07,101.77 L475.07,101.73 L476.07,101.68 L477.07,101.64 L478.08,101.59 L479.08,101.54 L480.08,101.5 L481.08,101.45 L482.08,101.4 L483.08,101.35 L484.08,101.3 L485.08,101.24 L486.08,101.19 L487.08,101.13 L488.09,101.07 L489.09,101.01 L490.09,100.95 L491.09,100.89 L492.09,100.83 L493.09,100.77 L494.09,100.7 L495.09,100.64 L496.09,100.57 L497.09,100.5 L498.09,100.43 L499.1,100.36 L500.1,100.29 L501.1,100.22 L502.1,100.15 L503.1,100.07 L504.1,99.99 L505.1,99.91 L506.1,99.83 L507.1,99.75 L508.1,99.66 L509.11,99.57 L510.11,99.49 L511.11,99.4 L512.11,99.31 L513.11,99.22 L514.11,99.12 L515.11,99.03 L516.11,98.94 L517.11,98.84 L518.11,98.75 L519.11,98.65 L520.12,98.56 L521.12,98.46 L522.12,98.37 L523.12,98.27 L524.12,98.17 L525.12,98.08 L526.12,97.98 L527.12,97.89 L528.12,97.79 L529.12,97.69 L530.13,97.59 L531.13,97.48 L532.13,97.38 L533.13,97.28 L534.13,97.17 L535.13,97.07 L536.13,96.97 L537.13,96.86 L538.13,96.76 L539.13,96.65 L540.13,96.54 L541.14,96.44 L542.14,96.33 L543.14,96.23 L544.14,96.12 L545.14,96.01 L546.14,95.9 L547.14,95.8 L548.14,95.69 L549.14,95.58 L550.14,95.47 L551.15,95.36 L552.15,95.25 L553.15,95.14 L554.15,95.03 L555.15,94.92 L556.15,94.81 L557.15,94.7 L558.15,94.6 L559.15,94.49 L560.15,94.39 L561.15,94.28 L562.16,94.18 L563.16,94.07 L564.16,93.96 L565.16,93.84 L566.16,93.72 L567.16,93.59 L568.16,93.46 L569.16,93.32 L570.16,93.16 L571.16,93 L572.17,92.82 L573.17,92.64 L574.17,92.45 L575.17,92.26 L576.17,92.07 L577.17,91.89 L578.17,91.7 L579.17,91.52 L580.17,91.33 L581.17,91.14 L582.17,90.94 L583.18,90.74 L584.18,90.54 L585.18,90.32 L586.18,90.09 L587.18,89.85 L588.18,89.59 L589.18,89.33 L590.18,89.06 L591.18,88.78 L592.18,88.49 L593.19,88.2 L594.19,87.9 L595.19,87.6 L596.19,87.29 L597.19,86.97 L598.19,86.65 L599.19,86.32 L600.19,85.98 L601.19,85.64 L602.19,85.31 L603.19,84.97 L604.2,84.62 L605.2,84.28 L606.2,83.93 L607.2,83.57 L608.2,83.22 L609.2,82.86 L610.2,82.5 L611.2,82.14 L612.2,81.78 L613.2,81.42 L614.21,81.07 L615.21,80.72 L616.21,80.36 L617.21,79.99 L618.21,79.6 L619.21,79.2 L620.21,78.76 L621.21,78.29 L622.21,77.78 L623.21,77.25 L624.21,76.69 L625.22,76.12 L626.22,75.55 L627.22,74.98 L628.22,74.41 L629.22,73.86 L630.22,73.33 L631.22,72.82 L632.22,72.31 L633.22,71.81 L634.22,71.32 L635.23,70.82 L636.23,70.32 L637.23,69.82 L638.23,69.31 L639.23,68.8 L640.23,68.27 L641.23,67.74 L642.23,67.21 L643.23,66.67 L644.23,66.13 L645.24,65.58 L646.24,65.03 L647.24,64.46 L648.24,63.89 L649.24,63.31 L650.24,62.72 L651.24,62.11 L652.24,61.5 L653.24,60.87 L654.24,60.23 L655.24,59.58 L656.25,58.93 L657.25,58.28 L658.25,57.61 L659.25,56.94 L660.25,56.26 L661.25,55.57 L662.25,54.88 L663.25,54.18 L664.25,53.47 L665.25,52.76 L666.26,52.04 L667.26,51.31 L668.26,50.57 L669.26,49.84 L670.26,49.11 L671.26,48.39 L672.26,47.66 L673.26,46.94 L674.26,46.22 L675.26,45.5 L676.26,44.78 L677.27,44.06 L678.27,43.35 L679.27,42.64 L680.27,41.94 L681.27,41.24 L682.27,40.54 L683.27,39.84 L684.27,39.15 L685.27,38.45 L686.27,37.76 L687.28,37.07 L688.28,36.37 L689.28,35.66 L690.28,34.95 L691.28,34.24 L692.28,33.53 L693.28,32.82 L694.28,32.12 L695.28,31.44 L696.28,30.77 L697.28,30.12 L698.29,29.49 L699.29,28.87 L700.29,28.25 L701.29,27.65 L702.29,27.05 L703.29,26.46 L704.29,25.87 L705.29,25.28 L706.29,24.69 L707.29,24.11 L708.3,23.53 L709.3,22.96 L710.3,22.39 L711.3,21.82 L712.3,21.26 L713.3,20.7" fill="none" stroke="#ff0000" stroke-width="1.25" stroke-linejoin="round"/>
<path d="M399,103.2 L400,103.18 L401,103.17 L402,103.15 L403,103.13 L404,103.12 L405.01,103.1 L406.01,103.09 L407.01,103.07 L408.01,103.05 L409.01,103.04 L410.01,103.02 L411.01,103 L412.01,102.99 L413.01,102.97 L414.01,102.96 L415.02,102.94 L416.02,102.92 L417.02,102.91 L418.02,102.89 L419.02,102.88 L420.02,102.86 L421.02,102.84 L422.02,102.83 L423.02,102.81 L424.02,102.8 L425.02,102.78 L426.03,102.76 L427.03,102.75 L428.03,102.73 L429.03,102.72 L430.03,102.7 L431.03,102.68 L432.03,102.67 L433.03,102.65 L434.03,102.64 L435.03,102.63 L436.04,102.61 L437.04,102.6 L438.04,102.58 L439.04,102.57 L440.04,102.56 L441.04,102.55 L442.04,102.53 L443.04,102.52 L444.04,102.51 L445.04,102.49 L446.04,102.48 L447.05,102.46 L448.05,102.45 L449.05,102.44 L450.05,102.42 L451.05,102.41 L452.05,102.39 L453.05,102.37 L454.05,102.36 L455.05,102.34 L456.05,102.32 L457.06,102.3 L458.06,102.28 L459.06,102.26 L460.06,102.24 L461.06,102.22 L462.06,102.2 L463.06,102.17 L464.06,102.15 L465.06,102.12 L466.06,102.09 L467.06,102.05 L468.07,102.02 L469.07,101.98 L470.07,101.94 L471.07,101.9 L472.07,101.86 L473.07,101.82 L474.07,101.77 L475.07,101.73 L476.07,101.68 L477.07,101.64 L478.08,101.59 L479.08,101.54 L480.08,101.5 L481.08,101.45 L482.08,101.4 L483.08,101.35 L484.08,101.3 L485.08,101.24 L486.08,101.19 L487.08,101.13 L488.09,101.07 L489.09,101.01 L490.09,100.95 L491.09,100.89 L492.09,100.83 L493.09,100.77 L494.09,100.7 L495.09,100.64 L496.09,100.57 L497.09,100.5 L498.09,100.43 L499.1,100.36 L500.1,100.29 L501.1,100.22 L502.1,100.15 L503.1,100.07 L504.1,99.99 L505.1,99.91 L506.1,99.83 L507.1,99.75 L508.1,99.66 L509.11,99.57 L510.11,99.49 L511.11,99.4 L512.11,99.31 L513.11,99.22 L514.11,99.12 L515.11,99.03 L516.11,98.94 L517.11,98.84 L518.11,98.75 L519.11,98.65 L520.12,98.56 L521.12,98.46 L522.12,98.37 L523.12,98.27 L524.12,98.17 L525.12,98.08 L526.12,97.98 L527.12,97.89 L528.12,97.79 L529.12,97.69 L530.13,97.59 L531.13,97.48 L532.13,97.38 L533.13,97.28 L534.13,97.17 L535.13,97.07 L536.13,96.97 L537.13,96.86 L538.13,96.76 L539.13,96.65 L540.13,96.54 L541.14,96.44 L542.14,96.33 L543.14,96.23 L544.14,96.12 L545.14,96.01 L546.14,95.9 L547.14,95.8 L548.14,95.69 L549.14,95.58 L550.14,95.47 L551.15,95.36 L552.15,95.25 L553.15,95.14 L554.15,95.03 L555.15,94.92 L556.15,94.81 L557.15,94.7 L558.15,94.6 L559.15,94.49 L560.15,94.39 L561.15,94.28 L562.16,94.18 L563.16,94.07 L564.16,93.96 L565.16,93.84 L566.16,93.72 L567.16,93.59 L568.16,93.46 L569.16,93.32 L570.16,93.16 L571.16,93 L572.17,92.82 L573.17,92.64 L574.17,92.45 L575.17,92.26 L576.17,92.07 L577.17,91.89 L578.17,91.7 L579.17,91.52 L580.17,91.33 L581.17,91.14 L582.17,90.94 L583.18,90.74 L584.18,90.54 L585.18,90.32 L586.18,90.09 L587.18,89.85 L588.18,89.59 L589.18,89.33 L590.18,89.06 L591.18,88.78 L592.18,88.49 L593.19,88.2 L594.19,87.9 L595.19,87.6 L596.19,87.29 L597.19,86.97 L598.19,86.65 L599.19,86.32 L600.19,85.98 L601.19,85.64 L602.19,85.31 L603.19,84.97 L604.2,84.62 L605.2,84.28 L606.2,83.93 L607.2,83.57 L608.2,83.22 L609.2,82.86 L610.2,82.5 L611.2,82.14 L612.2,81.78 L613.2,81.42 L614.21,81.07 L615.21,80.72 L616.21,80.36 L617.21,79.99 L618.21,79.6 L619.21,79.2 L620.21,78.76 L621.21,78.29 L622.21,77.78 L623.21,77.25 L624.21,76.69 L625.22,76.12 L626.22,75.55 L627.22,74.98 L628.22,74.41 L629.22,73.86 L630.22,73.33 L631.22,72.82 L632.22,72.31 L633.22,71.81 L634.22,71.32 L635.23,70.82 L636.23,70.32 L637.23,69.82 L638.23,69.31 L639.23,68.8 L640.23,68.27 L641.23,67.74 L642.23,67.21 L643.23,66.67 L644.23,66.13 L645.24,65.58 L646.24,65.03 L647.24,64.46 L648.24,63.89 L649.24,63.31 L650.24,62.72 L651.24,62.11 L652.24,61.5 L653.24,60.87 L654.24,60.23 L655.24,59.58 L656.25,58.93 L657.25,58.28 L658.25,57.61 L659.25,56.94 L660.25,56.26 L661.25,55.57 L662.25,54.88 L663.25,54.18 L664.25,53.47 L665.25,52.76 L666.26,52.04 L667.26,51.31 L668.26,50.57 L669.26,49.84 L670.26,49.11 L671.26,48.39 L672.26,47.66 L673.26,46.94 L674.26,46.22 L675.26,45.5 L676.26,44.78 L677.27,44.06 L678.27,43.35 L679.27,42.64 L680.27,41.94 L681.27,41.24 L682.27,40.54 L683.27,39.84 L684.27,39.15 L685.27,38.45 L686.27,37.76 L687.28,37.07 L688.28,36.37 L689.28,35.66 L690.28,34.95 L691.28,34.24 L692.28,33.53 L693.28,32.82 L694.28,32.12 L695.28,31.44 L696.28,30.77 L697.28,30.12 L698.29,29.49 L699.29,28.87 L700.29,28.25 L701.29,27.65 L702.29,27.05 L703.29,26.46 L704.29,25.87 L705.29,25.28 L706.29,24.69 L707.29,24.11 L708.3,23.53 L709.3,22.96 L710.3,22.39 L711.3,21.82 L712.3,21.26 L713.3,20.7" fill="none" stroke="#0000ff" stroke-width="1.4" stroke-dasharray="4,1.55"/>
</g>
<g clip-path="url(#cr1)">
<path d="M399,123.8 H713.3" fill="none" stroke="#ff0000" stroke-width="1.25" stroke-linejoin="round"/>
<path d="M399,221.3 H713.3" fill="none" stroke="#0000ff" stroke-width="1.4" stroke-dasharray="4,1.55"/>
</g>
<g clip-path="url(#cr2)">
<path d="M399.4,301.6 L403.37,301.79 L407.35,301.94 L411.32,302.07 L415.29,302.17 L419.27,302.25 L423.24,302.3 L427.21,302.32 L431.19,302.32 L435.16,302.29 L439.13,302.23 L443.11,302.15 L447.08,302.05 L451.05,301.92 L455.03,301.77 L459,301.59 L462.97,301.39 L466.95,301.16 L470.92,300.91 L474.89,300.64 L478.87,300.35 L482.84,300.03 L486.82,299.7 L490.79,299.34 L494.76,298.95 L498.74,298.55 L502.71,298.13 L506.68,297.68 L510.66,297.22 L514.63,296.73 L518.6,296.22 L522.58,295.7 L526.55,295.15 L530.52,294.59 L534.5,294.01 L538.47,293.41 L542.44,292.79 L546.42,292.15 L550.39,291.49 L554.36,290.82 L558.34,290.13 L562.31,289.43 L566.28,288.7 L570.26,287.96 L574.23,287.21 L578.2,286.43 L582.18,285.63 L586.15,284.8 L590.12,283.93 L594.1,283.02 L598.07,282.07 L602.04,281.06 L606.02,279.99 L609.99,278.86 L613.96,277.68 L617.94,276.44 L621.91,275.14 L625.88,273.79 L629.86,272.4 L633.83,270.96 L637.81,269.48 L641.78,267.98 L645.75,266.44 L649.73,264.88 L653.7,263.3 L657.67,261.72 L661.65,260.14 L665.62,258.57 L669.59,257.01 L673.57,255.49 L677.54,254 L681.51,252.55 L685.49,251.16 L689.46,249.83 L693.43,248.57 L697.41,247.38 L701.38,246.28 L705.35,245.28 L709.33,244.38 L713.3,243.59" fill="none" stroke="#ff0000" stroke-width="1.25" stroke-linejoin="round"/>
<path d="M399,340.6 H713.3" fill="none" stroke="#0000ff" stroke-width="1.4" stroke-dasharray="4,1.55"/>
<path d="M399,286.7 H713.3" fill="none" stroke="#808080" stroke-width="1.5" stroke-dasharray="6.7,1.6,1.2,1.5"/>
</g>
<g clip-path="url(#cr3)">
<path d="M399.3,356.38 L403.27,358.66 L407.25,360.99 L411.22,363.34 L415.19,365.72 L419.17,368.11 L423.14,370.51 L427.11,372.9 L431.09,375.29 L435.06,377.65 L439.03,379.99 L443.01,382.29 L446.98,384.55 L450.95,386.77 L454.93,388.95 L458.9,391.08 L462.87,393.17 L466.85,395.22 L470.82,397.21 L474.79,399.15 L478.77,401.04 L482.74,402.87 L486.72,404.64 L490.69,406.37 L494.66,408.04 L498.64,409.67 L502.61,411.26 L506.58,412.82 L510.56,414.34 L514.53,415.83 L518.5,417.3 L522.48,418.74 L526.45,420.17 L530.42,421.59 L534.4,422.99 L538.37,424.38 L542.34,425.74 L546.32,427.08 L550.29,428.38 L554.26,429.66 L558.24,430.89 L562.21,432.09 L566.18,433.26 L570.16,434.39 L574.13,435.49 L578.1,436.55 L582.08,437.58 L586.05,438.58 L590.02,439.55 L594,440.49 L597.97,441.4 L601.94,442.28 L605.92,443.13 L609.89,443.96 L613.86,444.75 L617.84,445.52 L621.81,446.25 L625.78,446.96 L629.76,447.64 L633.73,448.29 L637.71,448.91 L641.68,449.5 L645.65,450.06 L649.63,450.59 L653.6,451.08 L657.57,451.54 L661.55,451.96 L665.52,452.35 L669.49,452.7 L673.47,453.01 L677.44,453.29 L681.41,453.52 L685.39,453.72 L689.36,453.87 L693.33,453.98 L697.31,454.05 L701.28,454.07 L705.25,454.05 L709.23,453.98 L713.2,453.86" fill="none" stroke="#ff0000" stroke-width="1.25" stroke-linejoin="round"/>
<path d="M399,429.1 H713.3" fill="none" stroke="#0000ff" stroke-width="1.4" stroke-dasharray="4,1.55"/>
<path d="M399,423.7 H713.3" fill="none" stroke="#808080" stroke-width="1.5" stroke-dasharray="6.7,1.6,1.2,1.5"/>
</g>
<rect x="68.7" y="0.3" width="314.2" height="107.4" stroke="#000" stroke-width="0.8" fill="none"/>
<rect x="399" y="0.3" width="314.3" height="107.4" stroke="#000" stroke-width="0.8" fill="none"/>
<rect x="68.7" y="119.3" width="314.2" height="107" stroke="#000" stroke-width="0.8" fill="none"/>
<rect x="399" y="119.3" width="314.3" height="107" stroke="#000" stroke-width="0.8" fill="none"/>
<rect x="68.7" y="233.5" width="314.2" height="107" stroke="#000" stroke-width="0.8" fill="none"/>
<rect x="399" y="233.5" width="314.3" height="107" stroke="#000" stroke-width="0.8" fill="none"/>
<rect x="68.7" y="351.6" width="314.2" height="107.4" stroke="#000" stroke-width="0.8" fill="none"/>
<rect x="399" y="351.6" width="314.3" height="107.4" stroke="#000" stroke-width="0.8" fill="none"/>
<path d="M123,107.7 v2.6 M163.1,107.7 v2.6 M202.6,107.7 v2.6 M242.6,107.7 v2.6 M282.6,107.7 v2.6 M322.5,107.7 v2.6 M399.2,107.7 v2.6 M462,107.7 v2.6 M524.9,107.7 v2.6 M587.6,107.7 v2.6 M650.4,107.7 v2.6 M713.2,107.7 v2.6 M123,226.3 v2.6 M163.1,226.3 v2.6 M202.6,226.3 v2.6 M242.6,226.3 v2.6 M282.6,226.3 v2.6 M322.5,226.3 v2.6 M399.2,226.3 v2.6 M462,226.3 v2.6 M524.9,226.3 v2.6 M587.6,226.3 v2.6 M650.4,226.3 v2.6 M713.2,226.3 v2.6 M123,340.5 v2.6 M163.1,340.5 v2.6 M202.6,340.5 v2.6 M242.6,340.5 v2.6 M282.6,340.5 v2.6 M322.5,340.5 v2.6 M399.2,340.5 v2.6 M462,340.5 v2.6 M524.9,340.5 v2.6 M587.6,340.5 v2.6 M650.4,340.5 v2.6 M713.2,340.5 v2.6 M123,459 v2.6 M163.1,459 v2.6 M202.6,459 v2.6 M242.6,459 v2.6 M282.6,459 v2.6 M322.5,459 v2.6 M399.2,459 v2.6 M462,459 v2.6 M524.9,459 v2.6 M587.6,459 v2.6 M650.4,459 v2.6 M713.2,459 v2.6 M68.7,12.25 h-2.6 M68.7,36.06 h-2.6 M68.7,59.9 h-2.6 M68.7,83.7 h-2.6 M68.7,107.5 h-2.6 M68.7,123.1 h-2.6 M68.7,147.3 h-2.6 M68.7,171.5 h-2.6 M68.7,195.7 h-2.6 M68.7,219.9 h-2.6 M68.7,243.8 h-2.6 M68.7,273.2 h-2.6 M68.7,302.6 h-2.6 M68.7,332.1 h-2.6 M68.7,361.4 h-2.6 M68.7,376.8 h-2.6 M68.7,392.3 h-2.6 M68.7,407.7 h-2.6 M68.7,423.1 h-2.6 M68.7,438.6 h-2.6 M68.7,454 h-2.6 M713.3,93.5 h2.6 M713.3,73.7 h2.6 M713.3,53.8 h2.6 M713.3,34 h2.6 M713.3,14.2 h2.6 M713.3,221.3 h2.6 M713.3,198.3 h2.6 M713.3,175.2 h2.6 M713.3,152.2 h2.6 M713.3,129.2 h2.6 M713.3,340.3 h2.6 M713.3,310.6 h2.6 M713.3,281 h2.6 M713.3,251.3 h2.6 M713.3,443.8 h2.6 M713.3,423.7 h2.6 M713.3,403.6 h2.6 M713.3,383.5 h2.6 M713.3,363.4 h2.6" stroke="#000" stroke-width="0.8"/>
<path d="M182.3,74.7 H206" fill="none" stroke="#ff0000" stroke-width="1.25" stroke-linejoin="round"/>
<path d="M182.7,91.1 H204.4" fill="none" stroke="#727272" stroke-width="1.2" stroke-dasharray="4,1.55" stroke-linejoin="round"/>
<path d="M408.5,15.4 H432.2" fill="none" stroke="#ff0000" stroke-width="1.25" stroke-linejoin="round"/>
<path d="M409.1,31.8 H430.6" fill="none" stroke="#0000ff" stroke-width="1.4" stroke-dasharray="4,1.55"/>
</g>
<text xml:space="preserve" x="214.5" y="78.8" text-anchor="start" font-size="11.4" textLength="18.28" lengthAdjust="spacingAndGlyphs">SIR</text>
<text xml:space="preserve" x="214.5" y="94.7" text-anchor="start" font-size="11.4" textLength="54.12" lengthAdjust="spacingAndGlyphs">Observed</text>
<text xml:space="preserve" x="441.2" y="19.5" text-anchor="start" font-size="11.4" textLength="45.76" lengthAdjust="spacingAndGlyphs">model 1</text>
<text xml:space="preserve" x="441.2" y="35.8" text-anchor="start" font-size="11.4" textLength="45.76" lengthAdjust="spacingAndGlyphs">model 2</text>
<text xml:space="preserve" x="63.5" y="16.65" text-anchor="end" font-size="11.4" textLength="17.89" lengthAdjust="spacingAndGlyphs">1.0</text>
<text xml:space="preserve" x="63.5" y="40.46" text-anchor="end" font-size="11.4" textLength="17.89" lengthAdjust="spacingAndGlyphs">0.8</text>
<text xml:space="preserve" x="63.5" y="64.3" text-anchor="end" font-size="11.4" textLength="17.89" lengthAdjust="spacingAndGlyphs">0.6</text>
<text xml:space="preserve" x="63.5" y="88.1" text-anchor="end" font-size="11.4" textLength="17.89" lengthAdjust="spacingAndGlyphs">0.4</text>
<text xml:space="preserve" x="63.5" y="111.9" text-anchor="end" font-size="11.4" textLength="17.89" lengthAdjust="spacingAndGlyphs">0.2</text>
<text xml:space="preserve" x="63.5" y="127.5" text-anchor="end" font-size="11.4" textLength="32.21" lengthAdjust="spacingAndGlyphs">0.002</text>
<text xml:space="preserve" x="63.5" y="151.7" text-anchor="end" font-size="11.4" textLength="32.21" lengthAdjust="spacingAndGlyphs">0.000</text>
<text xml:space="preserve" x="63.5" y="175.9" text-anchor="end" font-size="11.4" textLength="41.63" lengthAdjust="spacingAndGlyphs">−0.002</text>
<text xml:space="preserve" x="63.5" y="200.1" text-anchor="end" font-size="11.4" textLength="41.63" lengthAdjust="spacingAndGlyphs">−0.004</text>
<text xml:space="preserve" x="63.5" y="224.3" text-anchor="end" font-size="11.4" textLength="41.63" lengthAdjust="spacingAndGlyphs">−0.006</text>
<text xml:space="preserve" x="63.5" y="248.2" text-anchor="end" font-size="11.4" textLength="32.21" lengthAdjust="spacingAndGlyphs">0.002</text>
<text xml:space="preserve" x="63.5" y="277.6" text-anchor="end" font-size="11.4" textLength="32.21" lengthAdjust="spacingAndGlyphs">0.000</text>
<text xml:space="preserve" x="63.5" y="307" text-anchor="end" font-size="11.4" textLength="41.63" lengthAdjust="spacingAndGlyphs">−0.002</text>
<text xml:space="preserve" x="63.5" y="336.5" text-anchor="end" font-size="11.4" textLength="41.63" lengthAdjust="spacingAndGlyphs">−0.004</text>
<text xml:space="preserve" x="63.5" y="365.8" text-anchor="end" font-size="11.4" textLength="39.36" lengthAdjust="spacingAndGlyphs">0.0025</text>
<text xml:space="preserve" x="63.5" y="381.2" text-anchor="end" font-size="11.4" textLength="39.36" lengthAdjust="spacingAndGlyphs">0.0000</text>
<text xml:space="preserve" x="63.5" y="396.7" text-anchor="end" font-size="11.4" textLength="48.79" lengthAdjust="spacingAndGlyphs">−0.0025</text>
<text xml:space="preserve" x="63.5" y="412.1" text-anchor="end" font-size="11.4" textLength="48.79" lengthAdjust="spacingAndGlyphs">−0.0050</text>
<text xml:space="preserve" x="63.5" y="427.5" text-anchor="end" font-size="11.4" textLength="48.79" lengthAdjust="spacingAndGlyphs">−0.0075</text>
<text xml:space="preserve" x="63.5" y="443" text-anchor="end" font-size="11.4" textLength="48.79" lengthAdjust="spacingAndGlyphs">−0.0100</text>
<text xml:space="preserve" x="63.5" y="458.4" text-anchor="end" font-size="11.4" textLength="48.79" lengthAdjust="spacingAndGlyphs">−0.0125</text>
<text xml:space="preserve" x="718.5" y="97.9" text-anchor="start" font-size="11.4" textLength="28.63" lengthAdjust="spacingAndGlyphs">5000</text>
<text xml:space="preserve" x="718.5" y="78.1" text-anchor="start" font-size="11.4" textLength="28.63" lengthAdjust="spacingAndGlyphs">6000</text>
<text xml:space="preserve" x="718.5" y="58.2" text-anchor="start" font-size="11.4" textLength="28.63" lengthAdjust="spacingAndGlyphs">7000</text>
<text xml:space="preserve" x="718.5" y="38.4" text-anchor="start" font-size="11.4" textLength="28.63" lengthAdjust="spacingAndGlyphs">8000</text>
<text xml:space="preserve" x="718.5" y="18.6" text-anchor="start" font-size="11.4" textLength="28.63" lengthAdjust="spacingAndGlyphs">9000</text>
<text xml:space="preserve" x="718.5" y="225.7" text-anchor="start" font-size="11.4" textLength="7.16" lengthAdjust="spacingAndGlyphs">0</text>
<text xml:space="preserve" x="718.5" y="202.7" text-anchor="start" font-size="11.4" textLength="14.32" lengthAdjust="spacingAndGlyphs">50</text>
<text xml:space="preserve" x="718.5" y="179.6" text-anchor="start" font-size="11.4" textLength="21.47" lengthAdjust="spacingAndGlyphs">100</text>
<text xml:space="preserve" x="718.5" y="156.6" text-anchor="start" font-size="11.4" textLength="21.47" lengthAdjust="spacingAndGlyphs">150</text>
<text xml:space="preserve" x="718.5" y="133.6" text-anchor="start" font-size="11.4" textLength="21.47" lengthAdjust="spacingAndGlyphs">200</text>
<text xml:space="preserve" x="718.5" y="344.7" text-anchor="start" font-size="11.4" textLength="7.16" lengthAdjust="spacingAndGlyphs">0</text>
<text xml:space="preserve" x="718.5" y="315" text-anchor="start" font-size="11.4" textLength="14.32" lengthAdjust="spacingAndGlyphs">50</text>
<text xml:space="preserve" x="718.5" y="285.4" text-anchor="start" font-size="11.4" textLength="21.47" lengthAdjust="spacingAndGlyphs">100</text>
<text xml:space="preserve" x="718.5" y="255.7" text-anchor="start" font-size="11.4" textLength="21.47" lengthAdjust="spacingAndGlyphs">150</text>
<text xml:space="preserve" x="718.5" y="448.2" text-anchor="start" font-size="11.4" textLength="16.58" lengthAdjust="spacingAndGlyphs">−2</text>
<text xml:space="preserve" x="718.5" y="428.1" text-anchor="start" font-size="11.4" textLength="7.16" lengthAdjust="spacingAndGlyphs">0</text>
<text xml:space="preserve" x="718.5" y="408" text-anchor="start" font-size="11.4" textLength="7.16" lengthAdjust="spacingAndGlyphs">2</text>
<text xml:space="preserve" x="718.5" y="387.9" text-anchor="start" font-size="11.4" textLength="7.16" lengthAdjust="spacingAndGlyphs">4</text>
<text xml:space="preserve" x="718.5" y="367.8" text-anchor="start" font-size="11.4" textLength="7.16" lengthAdjust="spacingAndGlyphs">6</text>
<text xml:space="preserve" x="399.2" y="472.8" text-anchor="middle" font-size="11.4" textLength="16.58" lengthAdjust="spacingAndGlyphs">−4</text>
<text xml:space="preserve" x="462" y="472.8" text-anchor="middle" font-size="11.4" textLength="16.58" lengthAdjust="spacingAndGlyphs">−3</text>
<text xml:space="preserve" x="524.9" y="472.8" text-anchor="middle" font-size="11.4" textLength="16.58" lengthAdjust="spacingAndGlyphs">−2</text>
<text xml:space="preserve" x="587.6" y="472.8" text-anchor="middle" font-size="11.4" textLength="16.58" lengthAdjust="spacingAndGlyphs">−1</text>
<text xml:space="preserve" x="650.4" y="472.8" text-anchor="middle" font-size="11.4" textLength="7.16" lengthAdjust="spacingAndGlyphs">0</text>
<text xml:space="preserve" x="713.2" y="472.8" text-anchor="middle" font-size="11.4" textLength="7.16" lengthAdjust="spacingAndGlyphs">1</text>
<g transform="translate(123,476.44) rotate(-20)">
<text xml:space="preserve" x="0" y="4.1" text-anchor="middle" font-size="11.4" textLength="46.52" lengthAdjust="spacingAndGlyphs">6301.18</text>
</g>
<g transform="translate(163.1,475.21) rotate(-20)">
<text xml:space="preserve" x="0" y="4.1" text-anchor="middle" font-size="11.4" textLength="39.36" lengthAdjust="spacingAndGlyphs">6301.5</text>
</g>
<g transform="translate(202.6,476.44) rotate(-20)">
<text xml:space="preserve" x="0" y="4.1" text-anchor="middle" font-size="11.4" textLength="46.52" lengthAdjust="spacingAndGlyphs">6301.82</text>
</g>
<g transform="translate(242.6,476.44) rotate(-20)">
<text xml:space="preserve" x="0" y="4.1" text-anchor="middle" font-size="11.4" textLength="46.52" lengthAdjust="spacingAndGlyphs">6302.15</text>
</g>
<g transform="translate(282.6,476.44) rotate(-20)">
<text xml:space="preserve" x="0" y="4.1" text-anchor="middle" font-size="11.4" textLength="46.52" lengthAdjust="spacingAndGlyphs">6302.47</text>
</g>
<g transform="translate(322.5,476.44) rotate(-20)">
<text xml:space="preserve" x="0" y="4.1" text-anchor="middle" font-size="11.4" textLength="46.52" lengthAdjust="spacingAndGlyphs">6302.79</text>
</g>
<text xml:space="preserve" x="225.6" y="503.4" text-anchor="middle" font-size="11.4" textLength="85.58" lengthAdjust="spacingAndGlyphs">wavelength [Å]</text>
<text xml:space="preserve" x="531.52" y="486.3" text-anchor="start" font-size="11.4" textLength="17.15" lengthAdjust="spacingAndGlyphs">log</text>
<text xml:space="preserve" x="548.67" y="486.3" text-anchor="start" font-size="11.4" textLength="6.77" lengthAdjust="spacingAndGlyphs" font-style="italic">τ</text>
<text xml:space="preserve" x="555.45" y="488.6" text-anchor="start" font-size="7.98" textLength="25.43" lengthAdjust="spacingAndGlyphs">5000Å</text>
<g transform="translate(40.2,54.2) rotate(-90)">
<text xml:space="preserve" x="-30.33" y="0" text-anchor="start" font-size="11.4" textLength="40.91" lengthAdjust="spacingAndGlyphs">Stokes </text>
<text xml:space="preserve" x="10.58" y="0" text-anchor="start" font-size="11.4" textLength="3.32" lengthAdjust="spacingAndGlyphs" font-style="italic">I</text>
<text xml:space="preserve" x="13.9" y="0" text-anchor="start" font-size="11.4" textLength="4.39" lengthAdjust="spacingAndGlyphs">[</text>
<text xml:space="preserve" x="18.29" y="0" text-anchor="start" font-size="11.4" textLength="3.32" lengthAdjust="spacingAndGlyphs" font-style="italic">I</text>
<text xml:space="preserve" x="21.61" y="2.3" text-anchor="start" font-size="7.98" textLength="4.33" lengthAdjust="spacingAndGlyphs">c</text>
<text xml:space="preserve" x="25.94" y="0" text-anchor="start" font-size="11.4" textLength="4.39" lengthAdjust="spacingAndGlyphs">]</text>
</g>
<g transform="translate(15.6,172.4) rotate(-90)">
<text xml:space="preserve" x="-33.09" y="0" text-anchor="start" font-size="11.4" textLength="40.91" lengthAdjust="spacingAndGlyphs">Stokes </text>
<text xml:space="preserve" x="7.81" y="0" text-anchor="start" font-size="11.4" textLength="8.85" lengthAdjust="spacingAndGlyphs" font-style="italic">Q</text>
<text xml:space="preserve" x="16.67" y="0" text-anchor="start" font-size="11.4" textLength="4.39" lengthAdjust="spacingAndGlyphs">[</text>
<text xml:space="preserve" x="21.06" y="0" text-anchor="start" font-size="11.4" textLength="3.32" lengthAdjust="spacingAndGlyphs" font-style="italic">I</text>
<text xml:space="preserve" x="24.38" y="2.3" text-anchor="start" font-size="7.98" textLength="4.33" lengthAdjust="spacingAndGlyphs">c</text>
<text xml:space="preserve" x="28.71" y="0" text-anchor="start" font-size="11.4" textLength="4.39" lengthAdjust="spacingAndGlyphs">]</text>
</g>
<g transform="translate(15.6,287.4) rotate(-90)">
<text xml:space="preserve" x="-32.78" y="0" text-anchor="start" font-size="11.4" textLength="40.91" lengthAdjust="spacingAndGlyphs">Stokes </text>
<text xml:space="preserve" x="8.12" y="0" text-anchor="start" font-size="11.4" textLength="8.23" lengthAdjust="spacingAndGlyphs" font-style="italic">U</text>
<text xml:space="preserve" x="16.36" y="0" text-anchor="start" font-size="11.4" textLength="4.39" lengthAdjust="spacingAndGlyphs">[</text>
<text xml:space="preserve" x="20.75" y="0" text-anchor="start" font-size="11.4" textLength="3.32" lengthAdjust="spacingAndGlyphs" font-style="italic">I</text>
<text xml:space="preserve" x="24.07" y="2.3" text-anchor="start" font-size="7.98" textLength="4.33" lengthAdjust="spacingAndGlyphs">c</text>
<text xml:space="preserve" x="28.39" y="0" text-anchor="start" font-size="11.4" textLength="4.39" lengthAdjust="spacingAndGlyphs">]</text>
</g>
<g transform="translate(8.8,404.9) rotate(-90)">
<text xml:space="preserve" x="-32.51" y="0" text-anchor="start" font-size="11.4" textLength="40.91" lengthAdjust="spacingAndGlyphs">Stokes </text>
<text xml:space="preserve" x="8.39" y="0" text-anchor="start" font-size="11.4" textLength="7.7" lengthAdjust="spacingAndGlyphs" font-style="italic">V</text>
<text xml:space="preserve" x="16.09" y="0" text-anchor="start" font-size="11.4" textLength="4.39" lengthAdjust="spacingAndGlyphs">[</text>
<text xml:space="preserve" x="20.48" y="0" text-anchor="start" font-size="11.4" textLength="3.32" lengthAdjust="spacingAndGlyphs" font-style="italic">I</text>
<text xml:space="preserve" x="23.8" y="2.3" text-anchor="start" font-size="7.98" textLength="4.33" lengthAdjust="spacingAndGlyphs">c</text>
<text xml:space="preserve" x="28.13" y="0" text-anchor="start" font-size="11.4" textLength="4.39" lengthAdjust="spacingAndGlyphs">]</text>
</g>
<g transform="translate(758.5,54.5) rotate(-90)">
<text xml:space="preserve" x="-13.3" y="0" text-anchor="start" font-size="11.4" textLength="26.6" lengthAdjust="spacingAndGlyphs">T [K]</text>
</g>
<g transform="translate(751,172.2) rotate(-90)">
<text xml:space="preserve" x="-14.39" y="0" text-anchor="start" font-size="11.4" textLength="28.79" lengthAdjust="spacingAndGlyphs">B [G]</text>
</g>
<g transform="translate(751,0) rotate(-90)">
<text xml:space="preserve" x="-296.8" y="0" text-anchor="middle" font-size="11.4" textLength="6.66" lengthAdjust="spacingAndGlyphs" font-style="italic">γ</text>
<text xml:space="preserve" x="-288.6" y="0" text-anchor="middle" font-size="11.4" textLength="4.39" lengthAdjust="spacingAndGlyphs">[</text>
<text xml:space="preserve" x="-282.3" y="-2.6" text-anchor="middle" font-size="7.98" textLength="3.94" lengthAdjust="spacingAndGlyphs">°</text>
<text xml:space="preserve" x="-275.2" y="0" text-anchor="middle" font-size="11.4" textLength="4.39" lengthAdjust="spacingAndGlyphs">]</text>
</g>
<g transform="translate(748.1,0) rotate(-90)">
<text xml:space="preserve" x="-445.3" y="0" text-anchor="middle" font-size="11.4" textLength="6.66" lengthAdjust="spacingAndGlyphs" font-style="italic">v</text>
<text xml:space="preserve" x="-434.4" y="2.3" text-anchor="middle" font-size="7.98" textLength="15.3" lengthAdjust="spacingAndGlyphs">LOS</text>
<text xml:space="preserve" x="-420.8" y="0" text-anchor="middle" font-size="11.4" textLength="4.39" lengthAdjust="spacingAndGlyphs">[</text>
<text xml:space="preserve" x="-409.7" y="0" text-anchor="middle" font-size="11.4" textLength="17.47" lengthAdjust="spacingAndGlyphs">km</text>
<text xml:space="preserve" x="-388.4" y="0" text-anchor="middle" font-size="11.4" textLength="18.97" lengthAdjust="spacingAndGlyphs">sec</text>
<text xml:space="preserve" x="-372.1" y="-5.4" text-anchor="middle" font-size="7.98" textLength="11.61" lengthAdjust="spacingAndGlyphs">−1</text>
<text xml:space="preserve" x="-363.3" y="0" text-anchor="middle" font-size="11.4" textLength="4.39" lengthAdjust="spacingAndGlyphs">]</text>
</g>
</svg>
</body></html>
